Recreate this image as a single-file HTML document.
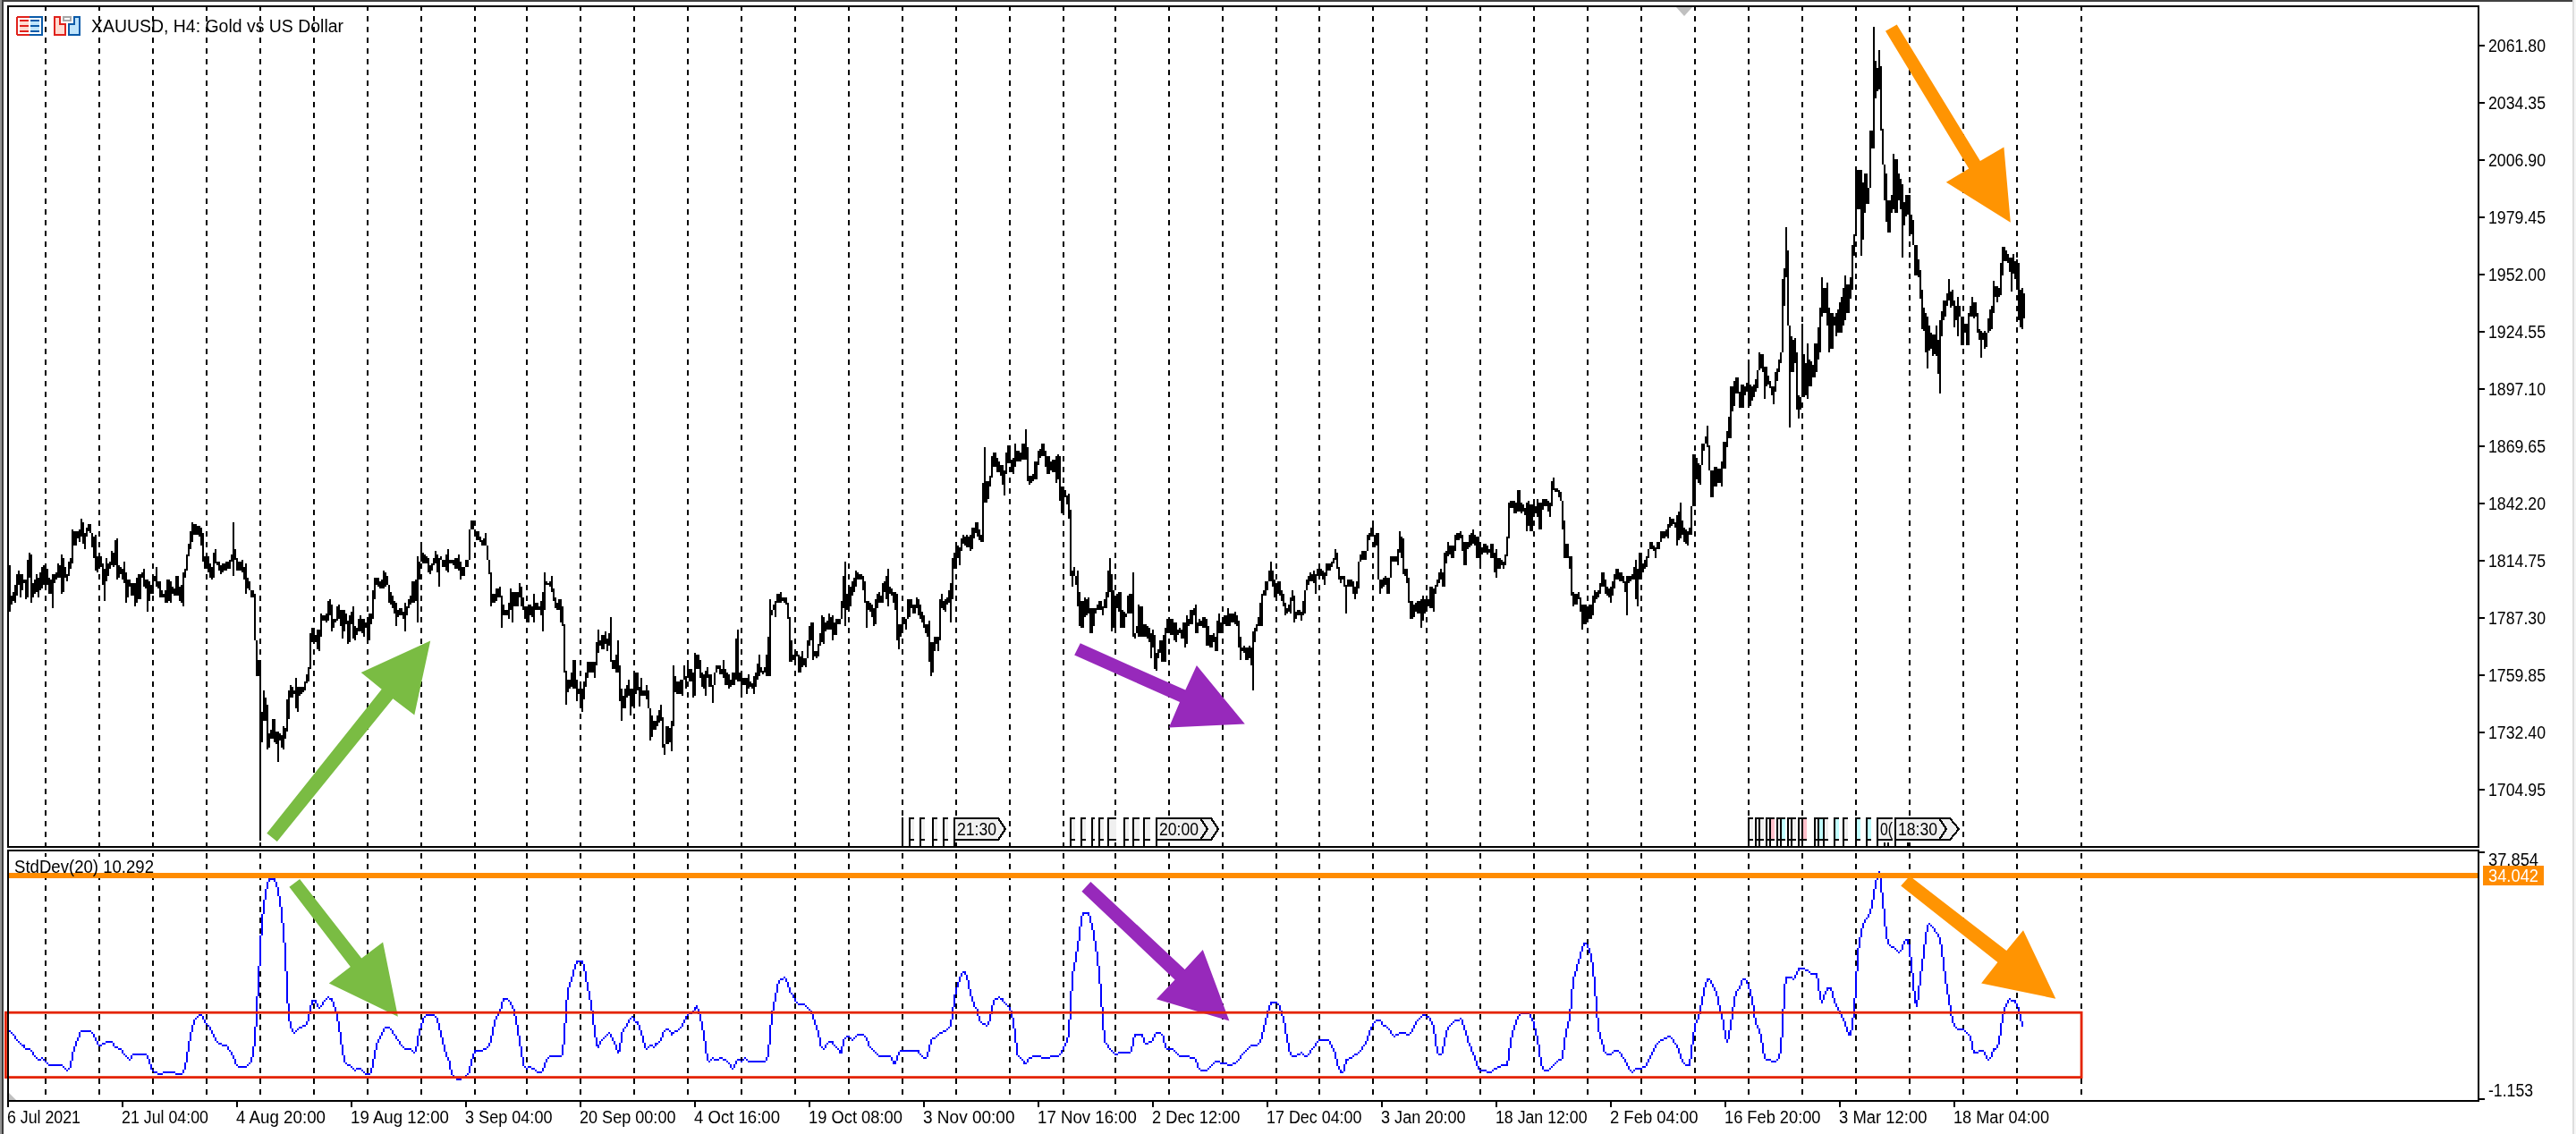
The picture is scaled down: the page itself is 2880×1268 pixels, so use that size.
<!DOCTYPE html>
<html><head><meta charset="utf-8"><title>XAUUSD H4</title>
<style>html,body{margin:0;padding:0;background:#fff;overflow:hidden}svg{display:block;will-change:transform}
text{font-family:"Liberation Sans",sans-serif}</style></head>
<body>
<svg width="2880" height="1268" viewBox="0 0 2880 1268">
<rect width="2880" height="1268" fill="#fff"/>
<g shape-rendering="crispEdges">
<rect x="0" y="0" width="2" height="1268" fill="#939393"/>
<rect x="2" y="0" width="2" height="1268" fill="#3c3c3c"/>
<rect x="2" y="0" width="2874" height="2" fill="#414141"/>
<rect x="2876" y="0" width="2" height="1268" fill="#dedede"/>
<rect x="2878" y="0" width="2" height="1268" fill="#f6f6f6"/>
<path d="M51 8V12M51 18V24M51 30V36M51 42V48M51 54V60M51 66V72M51 78V84M51 90V96M51 102V108M51 114V120M51 126V132M51 138V144M51 150V156M51 162V168M51 174V180M51 186V192M51 198V204M51 210V216M51 222V228M51 234V240M51 246V252M51 258V264M51 270V276M51 282V288M51 294V300M51 306V312M51 318V324M51 330V336M51 342V348M51 354V360M51 366V372M51 378V384M51 390V396M51 402V408M51 414V420M51 426V432M51 438V444M51 450V456M51 462V468M51 474V480M51 486V492M51 498V504M51 510V516M51 522V528M51 534V540M51 546V552M51 558V564M51 570V576M51 582V588M51 594V600M51 606V612M51 618V624M51 630V636M51 642V648M51 654V660M51 666V672M51 678V684M51 690V696M51 702V708M51 714V720M51 726V732M51 738V744M51 750V756M51 762V768M51 774V780M51 786V792M51 798V804M51 810V816M51 822V828M51 834V840M51 846V852M51 858V864M51 870V876M51 882V888M51 894V900M51 906V912M51 918V924M51 930V936M51 942V948M51 954V960M51 966V972M51 978V984M51 990V996M51 1002V1008M51 1014V1020M51 1026V1032M51 1038V1044M51 1050V1056M51 1062V1068M51 1074V1080M51 1086V1092M51 1098V1104M51 1110V1116M51 1122V1128M51 1134V1140M51 1146V1152M51 1158V1164M51 1170V1176M51 1182V1188M51 1194V1200M51 1206V1212M51 1218V1224M111 8V12M111 18V24M111 30V36M111 42V48M111 54V60M111 66V72M111 78V84M111 90V96M111 102V108M111 114V120M111 126V132M111 138V144M111 150V156M111 162V168M111 174V180M111 186V192M111 198V204M111 210V216M111 222V228M111 234V240M111 246V252M111 258V264M111 270V276M111 282V288M111 294V300M111 306V312M111 318V324M111 330V336M111 342V348M111 354V360M111 366V372M111 378V384M111 390V396M111 402V408M111 414V420M111 426V432M111 438V444M111 450V456M111 462V468M111 474V480M111 486V492M111 498V504M111 510V516M111 522V528M111 534V540M111 546V552M111 558V564M111 570V576M111 582V588M111 594V600M111 606V612M111 618V624M111 630V636M111 642V648M111 654V660M111 666V672M111 678V684M111 690V696M111 702V708M111 714V720M111 726V732M111 738V744M111 750V756M111 762V768M111 774V780M111 786V792M111 798V804M111 810V816M111 822V828M111 834V840M111 846V852M111 858V864M111 870V876M111 882V888M111 894V900M111 906V912M111 918V924M111 930V936M111 942V948M111 954V960M111 966V972M111 978V984M111 990V996M111 1002V1008M111 1014V1020M111 1026V1032M111 1038V1044M111 1050V1056M111 1062V1068M111 1074V1080M111 1086V1092M111 1098V1104M111 1110V1116M111 1122V1128M111 1134V1140M111 1146V1152M111 1158V1164M111 1170V1176M111 1182V1188M111 1194V1200M111 1206V1212M111 1218V1224M171 8V12M171 18V24M171 30V36M171 42V48M171 54V60M171 66V72M171 78V84M171 90V96M171 102V108M171 114V120M171 126V132M171 138V144M171 150V156M171 162V168M171 174V180M171 186V192M171 198V204M171 210V216M171 222V228M171 234V240M171 246V252M171 258V264M171 270V276M171 282V288M171 294V300M171 306V312M171 318V324M171 330V336M171 342V348M171 354V360M171 366V372M171 378V384M171 390V396M171 402V408M171 414V420M171 426V432M171 438V444M171 450V456M171 462V468M171 474V480M171 486V492M171 498V504M171 510V516M171 522V528M171 534V540M171 546V552M171 558V564M171 570V576M171 582V588M171 594V600M171 606V612M171 618V624M171 630V636M171 642V648M171 654V660M171 666V672M171 678V684M171 690V696M171 702V708M171 714V720M171 726V732M171 738V744M171 750V756M171 762V768M171 774V780M171 786V792M171 798V804M171 810V816M171 822V828M171 834V840M171 846V852M171 858V864M171 870V876M171 882V888M171 894V900M171 906V912M171 918V924M171 930V936M171 942V948M171 954V960M171 966V972M171 978V984M171 990V996M171 1002V1008M171 1014V1020M171 1026V1032M171 1038V1044M171 1050V1056M171 1062V1068M171 1074V1080M171 1086V1092M171 1098V1104M171 1110V1116M171 1122V1128M171 1134V1140M171 1146V1152M171 1158V1164M171 1170V1176M171 1182V1188M171 1194V1200M171 1206V1212M171 1218V1224M231 8V12M231 18V24M231 30V36M231 42V48M231 54V60M231 66V72M231 78V84M231 90V96M231 102V108M231 114V120M231 126V132M231 138V144M231 150V156M231 162V168M231 174V180M231 186V192M231 198V204M231 210V216M231 222V228M231 234V240M231 246V252M231 258V264M231 270V276M231 282V288M231 294V300M231 306V312M231 318V324M231 330V336M231 342V348M231 354V360M231 366V372M231 378V384M231 390V396M231 402V408M231 414V420M231 426V432M231 438V444M231 450V456M231 462V468M231 474V480M231 486V492M231 498V504M231 510V516M231 522V528M231 534V540M231 546V552M231 558V564M231 570V576M231 582V588M231 594V600M231 606V612M231 618V624M231 630V636M231 642V648M231 654V660M231 666V672M231 678V684M231 690V696M231 702V708M231 714V720M231 726V732M231 738V744M231 750V756M231 762V768M231 774V780M231 786V792M231 798V804M231 810V816M231 822V828M231 834V840M231 846V852M231 858V864M231 870V876M231 882V888M231 894V900M231 906V912M231 918V924M231 930V936M231 942V948M231 954V960M231 966V972M231 978V984M231 990V996M231 1002V1008M231 1014V1020M231 1026V1032M231 1038V1044M231 1050V1056M231 1062V1068M231 1074V1080M231 1086V1092M231 1098V1104M231 1110V1116M231 1122V1128M231 1134V1140M231 1146V1152M231 1158V1164M231 1170V1176M231 1182V1188M231 1194V1200M231 1206V1212M231 1218V1224M291 8V12M291 18V24M291 30V36M291 42V48M291 54V60M291 66V72M291 78V84M291 90V96M291 102V108M291 114V120M291 126V132M291 138V144M291 150V156M291 162V168M291 174V180M291 186V192M291 198V204M291 210V216M291 222V228M291 234V240M291 246V252M291 258V264M291 270V276M291 282V288M291 294V300M291 306V312M291 318V324M291 330V336M291 342V348M291 354V360M291 366V372M291 378V384M291 390V396M291 402V408M291 414V420M291 426V432M291 438V444M291 450V456M291 462V468M291 474V480M291 486V492M291 498V504M291 510V516M291 522V528M291 534V540M291 546V552M291 558V564M291 570V576M291 582V588M291 594V600M291 606V612M291 618V624M291 630V636M291 642V648M291 654V660M291 666V672M291 678V684M291 690V696M291 702V708M291 714V720M291 726V732M291 738V744M291 750V756M291 762V768M291 774V780M291 786V792M291 798V804M291 810V816M291 822V828M291 834V840M291 846V852M291 858V864M291 870V876M291 882V888M291 894V900M291 906V912M291 918V924M291 930V936M291 942V948M291 954V960M291 966V972M291 978V984M291 990V996M291 1002V1008M291 1014V1020M291 1026V1032M291 1038V1044M291 1050V1056M291 1062V1068M291 1074V1080M291 1086V1092M291 1098V1104M291 1110V1116M291 1122V1128M291 1134V1140M291 1146V1152M291 1158V1164M291 1170V1176M291 1182V1188M291 1194V1200M291 1206V1212M291 1218V1224M351 8V12M351 18V24M351 30V36M351 42V48M351 54V60M351 66V72M351 78V84M351 90V96M351 102V108M351 114V120M351 126V132M351 138V144M351 150V156M351 162V168M351 174V180M351 186V192M351 198V204M351 210V216M351 222V228M351 234V240M351 246V252M351 258V264M351 270V276M351 282V288M351 294V300M351 306V312M351 318V324M351 330V336M351 342V348M351 354V360M351 366V372M351 378V384M351 390V396M351 402V408M351 414V420M351 426V432M351 438V444M351 450V456M351 462V468M351 474V480M351 486V492M351 498V504M351 510V516M351 522V528M351 534V540M351 546V552M351 558V564M351 570V576M351 582V588M351 594V600M351 606V612M351 618V624M351 630V636M351 642V648M351 654V660M351 666V672M351 678V684M351 690V696M351 702V708M351 714V720M351 726V732M351 738V744M351 750V756M351 762V768M351 774V780M351 786V792M351 798V804M351 810V816M351 822V828M351 834V840M351 846V852M351 858V864M351 870V876M351 882V888M351 894V900M351 906V912M351 918V924M351 930V936M351 942V948M351 954V960M351 966V972M351 978V984M351 990V996M351 1002V1008M351 1014V1020M351 1026V1032M351 1038V1044M351 1050V1056M351 1062V1068M351 1074V1080M351 1086V1092M351 1098V1104M351 1110V1116M351 1122V1128M351 1134V1140M351 1146V1152M351 1158V1164M351 1170V1176M351 1182V1188M351 1194V1200M351 1206V1212M351 1218V1224M411 8V12M411 18V24M411 30V36M411 42V48M411 54V60M411 66V72M411 78V84M411 90V96M411 102V108M411 114V120M411 126V132M411 138V144M411 150V156M411 162V168M411 174V180M411 186V192M411 198V204M411 210V216M411 222V228M411 234V240M411 246V252M411 258V264M411 270V276M411 282V288M411 294V300M411 306V312M411 318V324M411 330V336M411 342V348M411 354V360M411 366V372M411 378V384M411 390V396M411 402V408M411 414V420M411 426V432M411 438V444M411 450V456M411 462V468M411 474V480M411 486V492M411 498V504M411 510V516M411 522V528M411 534V540M411 546V552M411 558V564M411 570V576M411 582V588M411 594V600M411 606V612M411 618V624M411 630V636M411 642V648M411 654V660M411 666V672M411 678V684M411 690V696M411 702V708M411 714V720M411 726V732M411 738V744M411 750V756M411 762V768M411 774V780M411 786V792M411 798V804M411 810V816M411 822V828M411 834V840M411 846V852M411 858V864M411 870V876M411 882V888M411 894V900M411 906V912M411 918V924M411 930V936M411 942V948M411 954V960M411 966V972M411 978V984M411 990V996M411 1002V1008M411 1014V1020M411 1026V1032M411 1038V1044M411 1050V1056M411 1062V1068M411 1074V1080M411 1086V1092M411 1098V1104M411 1110V1116M411 1122V1128M411 1134V1140M411 1146V1152M411 1158V1164M411 1170V1176M411 1182V1188M411 1194V1200M411 1206V1212M411 1218V1224M471 8V12M471 18V24M471 30V36M471 42V48M471 54V60M471 66V72M471 78V84M471 90V96M471 102V108M471 114V120M471 126V132M471 138V144M471 150V156M471 162V168M471 174V180M471 186V192M471 198V204M471 210V216M471 222V228M471 234V240M471 246V252M471 258V264M471 270V276M471 282V288M471 294V300M471 306V312M471 318V324M471 330V336M471 342V348M471 354V360M471 366V372M471 378V384M471 390V396M471 402V408M471 414V420M471 426V432M471 438V444M471 450V456M471 462V468M471 474V480M471 486V492M471 498V504M471 510V516M471 522V528M471 534V540M471 546V552M471 558V564M471 570V576M471 582V588M471 594V600M471 606V612M471 618V624M471 630V636M471 642V648M471 654V660M471 666V672M471 678V684M471 690V696M471 702V708M471 714V720M471 726V732M471 738V744M471 750V756M471 762V768M471 774V780M471 786V792M471 798V804M471 810V816M471 822V828M471 834V840M471 846V852M471 858V864M471 870V876M471 882V888M471 894V900M471 906V912M471 918V924M471 930V936M471 942V948M471 954V960M471 966V972M471 978V984M471 990V996M471 1002V1008M471 1014V1020M471 1026V1032M471 1038V1044M471 1050V1056M471 1062V1068M471 1074V1080M471 1086V1092M471 1098V1104M471 1110V1116M471 1122V1128M471 1134V1140M471 1146V1152M471 1158V1164M471 1170V1176M471 1182V1188M471 1194V1200M471 1206V1212M471 1218V1224M531 8V12M531 18V24M531 30V36M531 42V48M531 54V60M531 66V72M531 78V84M531 90V96M531 102V108M531 114V120M531 126V132M531 138V144M531 150V156M531 162V168M531 174V180M531 186V192M531 198V204M531 210V216M531 222V228M531 234V240M531 246V252M531 258V264M531 270V276M531 282V288M531 294V300M531 306V312M531 318V324M531 330V336M531 342V348M531 354V360M531 366V372M531 378V384M531 390V396M531 402V408M531 414V420M531 426V432M531 438V444M531 450V456M531 462V468M531 474V480M531 486V492M531 498V504M531 510V516M531 522V528M531 534V540M531 546V552M531 558V564M531 570V576M531 582V588M531 594V600M531 606V612M531 618V624M531 630V636M531 642V648M531 654V660M531 666V672M531 678V684M531 690V696M531 702V708M531 714V720M531 726V732M531 738V744M531 750V756M531 762V768M531 774V780M531 786V792M531 798V804M531 810V816M531 822V828M531 834V840M531 846V852M531 858V864M531 870V876M531 882V888M531 894V900M531 906V912M531 918V924M531 930V936M531 942V948M531 954V960M531 966V972M531 978V984M531 990V996M531 1002V1008M531 1014V1020M531 1026V1032M531 1038V1044M531 1050V1056M531 1062V1068M531 1074V1080M531 1086V1092M531 1098V1104M531 1110V1116M531 1122V1128M531 1134V1140M531 1146V1152M531 1158V1164M531 1170V1176M531 1182V1188M531 1194V1200M531 1206V1212M531 1218V1224M589 8V12M589 18V24M589 30V36M589 42V48M589 54V60M589 66V72M589 78V84M589 90V96M589 102V108M589 114V120M589 126V132M589 138V144M589 150V156M589 162V168M589 174V180M589 186V192M589 198V204M589 210V216M589 222V228M589 234V240M589 246V252M589 258V264M589 270V276M589 282V288M589 294V300M589 306V312M589 318V324M589 330V336M589 342V348M589 354V360M589 366V372M589 378V384M589 390V396M589 402V408M589 414V420M589 426V432M589 438V444M589 450V456M589 462V468M589 474V480M589 486V492M589 498V504M589 510V516M589 522V528M589 534V540M589 546V552M589 558V564M589 570V576M589 582V588M589 594V600M589 606V612M589 618V624M589 630V636M589 642V648M589 654V660M589 666V672M589 678V684M589 690V696M589 702V708M589 714V720M589 726V732M589 738V744M589 750V756M589 762V768M589 774V780M589 786V792M589 798V804M589 810V816M589 822V828M589 834V840M589 846V852M589 858V864M589 870V876M589 882V888M589 894V900M589 906V912M589 918V924M589 930V936M589 942V948M589 954V960M589 966V972M589 978V984M589 990V996M589 1002V1008M589 1014V1020M589 1026V1032M589 1038V1044M589 1050V1056M589 1062V1068M589 1074V1080M589 1086V1092M589 1098V1104M589 1110V1116M589 1122V1128M589 1134V1140M589 1146V1152M589 1158V1164M589 1170V1176M589 1182V1188M589 1194V1200M589 1206V1212M589 1218V1224M649 8V12M649 18V24M649 30V36M649 42V48M649 54V60M649 66V72M649 78V84M649 90V96M649 102V108M649 114V120M649 126V132M649 138V144M649 150V156M649 162V168M649 174V180M649 186V192M649 198V204M649 210V216M649 222V228M649 234V240M649 246V252M649 258V264M649 270V276M649 282V288M649 294V300M649 306V312M649 318V324M649 330V336M649 342V348M649 354V360M649 366V372M649 378V384M649 390V396M649 402V408M649 414V420M649 426V432M649 438V444M649 450V456M649 462V468M649 474V480M649 486V492M649 498V504M649 510V516M649 522V528M649 534V540M649 546V552M649 558V564M649 570V576M649 582V588M649 594V600M649 606V612M649 618V624M649 630V636M649 642V648M649 654V660M649 666V672M649 678V684M649 690V696M649 702V708M649 714V720M649 726V732M649 738V744M649 750V756M649 762V768M649 774V780M649 786V792M649 798V804M649 810V816M649 822V828M649 834V840M649 846V852M649 858V864M649 870V876M649 882V888M649 894V900M649 906V912M649 918V924M649 930V936M649 942V948M649 954V960M649 966V972M649 978V984M649 990V996M649 1002V1008M649 1014V1020M649 1026V1032M649 1038V1044M649 1050V1056M649 1062V1068M649 1074V1080M649 1086V1092M649 1098V1104M649 1110V1116M649 1122V1128M649 1134V1140M649 1146V1152M649 1158V1164M649 1170V1176M649 1182V1188M649 1194V1200M649 1206V1212M649 1218V1224M709 8V12M709 18V24M709 30V36M709 42V48M709 54V60M709 66V72M709 78V84M709 90V96M709 102V108M709 114V120M709 126V132M709 138V144M709 150V156M709 162V168M709 174V180M709 186V192M709 198V204M709 210V216M709 222V228M709 234V240M709 246V252M709 258V264M709 270V276M709 282V288M709 294V300M709 306V312M709 318V324M709 330V336M709 342V348M709 354V360M709 366V372M709 378V384M709 390V396M709 402V408M709 414V420M709 426V432M709 438V444M709 450V456M709 462V468M709 474V480M709 486V492M709 498V504M709 510V516M709 522V528M709 534V540M709 546V552M709 558V564M709 570V576M709 582V588M709 594V600M709 606V612M709 618V624M709 630V636M709 642V648M709 654V660M709 666V672M709 678V684M709 690V696M709 702V708M709 714V720M709 726V732M709 738V744M709 750V756M709 762V768M709 774V780M709 786V792M709 798V804M709 810V816M709 822V828M709 834V840M709 846V852M709 858V864M709 870V876M709 882V888M709 894V900M709 906V912M709 918V924M709 930V936M709 942V948M709 954V960M709 966V972M709 978V984M709 990V996M709 1002V1008M709 1014V1020M709 1026V1032M709 1038V1044M709 1050V1056M709 1062V1068M709 1074V1080M709 1086V1092M709 1098V1104M709 1110V1116M709 1122V1128M709 1134V1140M709 1146V1152M709 1158V1164M709 1170V1176M709 1182V1188M709 1194V1200M709 1206V1212M709 1218V1224M769 8V12M769 18V24M769 30V36M769 42V48M769 54V60M769 66V72M769 78V84M769 90V96M769 102V108M769 114V120M769 126V132M769 138V144M769 150V156M769 162V168M769 174V180M769 186V192M769 198V204M769 210V216M769 222V228M769 234V240M769 246V252M769 258V264M769 270V276M769 282V288M769 294V300M769 306V312M769 318V324M769 330V336M769 342V348M769 354V360M769 366V372M769 378V384M769 390V396M769 402V408M769 414V420M769 426V432M769 438V444M769 450V456M769 462V468M769 474V480M769 486V492M769 498V504M769 510V516M769 522V528M769 534V540M769 546V552M769 558V564M769 570V576M769 582V588M769 594V600M769 606V612M769 618V624M769 630V636M769 642V648M769 654V660M769 666V672M769 678V684M769 690V696M769 702V708M769 714V720M769 726V732M769 738V744M769 750V756M769 762V768M769 774V780M769 786V792M769 798V804M769 810V816M769 822V828M769 834V840M769 846V852M769 858V864M769 870V876M769 882V888M769 894V900M769 906V912M769 918V924M769 930V936M769 942V948M769 954V960M769 966V972M769 978V984M769 990V996M769 1002V1008M769 1014V1020M769 1026V1032M769 1038V1044M769 1050V1056M769 1062V1068M769 1074V1080M769 1086V1092M769 1098V1104M769 1110V1116M769 1122V1128M769 1134V1140M769 1146V1152M769 1158V1164M769 1170V1176M769 1182V1188M769 1194V1200M769 1206V1212M769 1218V1224M829 8V12M829 18V24M829 30V36M829 42V48M829 54V60M829 66V72M829 78V84M829 90V96M829 102V108M829 114V120M829 126V132M829 138V144M829 150V156M829 162V168M829 174V180M829 186V192M829 198V204M829 210V216M829 222V228M829 234V240M829 246V252M829 258V264M829 270V276M829 282V288M829 294V300M829 306V312M829 318V324M829 330V336M829 342V348M829 354V360M829 366V372M829 378V384M829 390V396M829 402V408M829 414V420M829 426V432M829 438V444M829 450V456M829 462V468M829 474V480M829 486V492M829 498V504M829 510V516M829 522V528M829 534V540M829 546V552M829 558V564M829 570V576M829 582V588M829 594V600M829 606V612M829 618V624M829 630V636M829 642V648M829 654V660M829 666V672M829 678V684M829 690V696M829 702V708M829 714V720M829 726V732M829 738V744M829 750V756M829 762V768M829 774V780M829 786V792M829 798V804M829 810V816M829 822V828M829 834V840M829 846V852M829 858V864M829 870V876M829 882V888M829 894V900M829 906V912M829 918V924M829 930V936M829 942V948M829 954V960M829 966V972M829 978V984M829 990V996M829 1002V1008M829 1014V1020M829 1026V1032M829 1038V1044M829 1050V1056M829 1062V1068M829 1074V1080M829 1086V1092M829 1098V1104M829 1110V1116M829 1122V1128M829 1134V1140M829 1146V1152M829 1158V1164M829 1170V1176M829 1182V1188M829 1194V1200M829 1206V1212M829 1218V1224M889 8V12M889 18V24M889 30V36M889 42V48M889 54V60M889 66V72M889 78V84M889 90V96M889 102V108M889 114V120M889 126V132M889 138V144M889 150V156M889 162V168M889 174V180M889 186V192M889 198V204M889 210V216M889 222V228M889 234V240M889 246V252M889 258V264M889 270V276M889 282V288M889 294V300M889 306V312M889 318V324M889 330V336M889 342V348M889 354V360M889 366V372M889 378V384M889 390V396M889 402V408M889 414V420M889 426V432M889 438V444M889 450V456M889 462V468M889 474V480M889 486V492M889 498V504M889 510V516M889 522V528M889 534V540M889 546V552M889 558V564M889 570V576M889 582V588M889 594V600M889 606V612M889 618V624M889 630V636M889 642V648M889 654V660M889 666V672M889 678V684M889 690V696M889 702V708M889 714V720M889 726V732M889 738V744M889 750V756M889 762V768M889 774V780M889 786V792M889 798V804M889 810V816M889 822V828M889 834V840M889 846V852M889 858V864M889 870V876M889 882V888M889 894V900M889 906V912M889 918V924M889 930V936M889 942V948M889 954V960M889 966V972M889 978V984M889 990V996M889 1002V1008M889 1014V1020M889 1026V1032M889 1038V1044M889 1050V1056M889 1062V1068M889 1074V1080M889 1086V1092M889 1098V1104M889 1110V1116M889 1122V1128M889 1134V1140M889 1146V1152M889 1158V1164M889 1170V1176M889 1182V1188M889 1194V1200M889 1206V1212M889 1218V1224M949 8V12M949 18V24M949 30V36M949 42V48M949 54V60M949 66V72M949 78V84M949 90V96M949 102V108M949 114V120M949 126V132M949 138V144M949 150V156M949 162V168M949 174V180M949 186V192M949 198V204M949 210V216M949 222V228M949 234V240M949 246V252M949 258V264M949 270V276M949 282V288M949 294V300M949 306V312M949 318V324M949 330V336M949 342V348M949 354V360M949 366V372M949 378V384M949 390V396M949 402V408M949 414V420M949 426V432M949 438V444M949 450V456M949 462V468M949 474V480M949 486V492M949 498V504M949 510V516M949 522V528M949 534V540M949 546V552M949 558V564M949 570V576M949 582V588M949 594V600M949 606V612M949 618V624M949 630V636M949 642V648M949 654V660M949 666V672M949 678V684M949 690V696M949 702V708M949 714V720M949 726V732M949 738V744M949 750V756M949 762V768M949 774V780M949 786V792M949 798V804M949 810V816M949 822V828M949 834V840M949 846V852M949 858V864M949 870V876M949 882V888M949 894V900M949 906V912M949 918V924M949 930V936M949 942V948M949 954V960M949 966V972M949 978V984M949 990V996M949 1002V1008M949 1014V1020M949 1026V1032M949 1038V1044M949 1050V1056M949 1062V1068M949 1074V1080M949 1086V1092M949 1098V1104M949 1110V1116M949 1122V1128M949 1134V1140M949 1146V1152M949 1158V1164M949 1170V1176M949 1182V1188M949 1194V1200M949 1206V1212M949 1218V1224M1009 8V12M1009 18V24M1009 30V36M1009 42V48M1009 54V60M1009 66V72M1009 78V84M1009 90V96M1009 102V108M1009 114V120M1009 126V132M1009 138V144M1009 150V156M1009 162V168M1009 174V180M1009 186V192M1009 198V204M1009 210V216M1009 222V228M1009 234V240M1009 246V252M1009 258V264M1009 270V276M1009 282V288M1009 294V300M1009 306V312M1009 318V324M1009 330V336M1009 342V348M1009 354V360M1009 366V372M1009 378V384M1009 390V396M1009 402V408M1009 414V420M1009 426V432M1009 438V444M1009 450V456M1009 462V468M1009 474V480M1009 486V492M1009 498V504M1009 510V516M1009 522V528M1009 534V540M1009 546V552M1009 558V564M1009 570V576M1009 582V588M1009 594V600M1009 606V612M1009 618V624M1009 630V636M1009 642V648M1009 654V660M1009 666V672M1009 678V684M1009 690V696M1009 702V708M1009 714V720M1009 726V732M1009 738V744M1009 750V756M1009 762V768M1009 774V780M1009 786V792M1009 798V804M1009 810V816M1009 822V828M1009 834V840M1009 846V852M1009 858V864M1009 870V876M1009 882V888M1009 894V900M1009 906V912M1009 918V924M1009 930V936M1009 942V948M1009 954V960M1009 966V972M1009 978V984M1009 990V996M1009 1002V1008M1009 1014V1020M1009 1026V1032M1009 1038V1044M1009 1050V1056M1009 1062V1068M1009 1074V1080M1009 1086V1092M1009 1098V1104M1009 1110V1116M1009 1122V1128M1009 1134V1140M1009 1146V1152M1009 1158V1164M1009 1170V1176M1009 1182V1188M1009 1194V1200M1009 1206V1212M1009 1218V1224M1069 8V12M1069 18V24M1069 30V36M1069 42V48M1069 54V60M1069 66V72M1069 78V84M1069 90V96M1069 102V108M1069 114V120M1069 126V132M1069 138V144M1069 150V156M1069 162V168M1069 174V180M1069 186V192M1069 198V204M1069 210V216M1069 222V228M1069 234V240M1069 246V252M1069 258V264M1069 270V276M1069 282V288M1069 294V300M1069 306V312M1069 318V324M1069 330V336M1069 342V348M1069 354V360M1069 366V372M1069 378V384M1069 390V396M1069 402V408M1069 414V420M1069 426V432M1069 438V444M1069 450V456M1069 462V468M1069 474V480M1069 486V492M1069 498V504M1069 510V516M1069 522V528M1069 534V540M1069 546V552M1069 558V564M1069 570V576M1069 582V588M1069 594V600M1069 606V612M1069 618V624M1069 630V636M1069 642V648M1069 654V660M1069 666V672M1069 678V684M1069 690V696M1069 702V708M1069 714V720M1069 726V732M1069 738V744M1069 750V756M1069 762V768M1069 774V780M1069 786V792M1069 798V804M1069 810V816M1069 822V828M1069 834V840M1069 846V852M1069 858V864M1069 870V876M1069 882V888M1069 894V900M1069 906V912M1069 918V924M1069 930V936M1069 942V948M1069 954V960M1069 966V972M1069 978V984M1069 990V996M1069 1002V1008M1069 1014V1020M1069 1026V1032M1069 1038V1044M1069 1050V1056M1069 1062V1068M1069 1074V1080M1069 1086V1092M1069 1098V1104M1069 1110V1116M1069 1122V1128M1069 1134V1140M1069 1146V1152M1069 1158V1164M1069 1170V1176M1069 1182V1188M1069 1194V1200M1069 1206V1212M1069 1218V1224M1129 8V12M1129 18V24M1129 30V36M1129 42V48M1129 54V60M1129 66V72M1129 78V84M1129 90V96M1129 102V108M1129 114V120M1129 126V132M1129 138V144M1129 150V156M1129 162V168M1129 174V180M1129 186V192M1129 198V204M1129 210V216M1129 222V228M1129 234V240M1129 246V252M1129 258V264M1129 270V276M1129 282V288M1129 294V300M1129 306V312M1129 318V324M1129 330V336M1129 342V348M1129 354V360M1129 366V372M1129 378V384M1129 390V396M1129 402V408M1129 414V420M1129 426V432M1129 438V444M1129 450V456M1129 462V468M1129 474V480M1129 486V492M1129 498V504M1129 510V516M1129 522V528M1129 534V540M1129 546V552M1129 558V564M1129 570V576M1129 582V588M1129 594V600M1129 606V612M1129 618V624M1129 630V636M1129 642V648M1129 654V660M1129 666V672M1129 678V684M1129 690V696M1129 702V708M1129 714V720M1129 726V732M1129 738V744M1129 750V756M1129 762V768M1129 774V780M1129 786V792M1129 798V804M1129 810V816M1129 822V828M1129 834V840M1129 846V852M1129 858V864M1129 870V876M1129 882V888M1129 894V900M1129 906V912M1129 918V924M1129 930V936M1129 942V948M1129 954V960M1129 966V972M1129 978V984M1129 990V996M1129 1002V1008M1129 1014V1020M1129 1026V1032M1129 1038V1044M1129 1050V1056M1129 1062V1068M1129 1074V1080M1129 1086V1092M1129 1098V1104M1129 1110V1116M1129 1122V1128M1129 1134V1140M1129 1146V1152M1129 1158V1164M1129 1170V1176M1129 1182V1188M1129 1194V1200M1129 1206V1212M1129 1218V1224M1189 8V12M1189 18V24M1189 30V36M1189 42V48M1189 54V60M1189 66V72M1189 78V84M1189 90V96M1189 102V108M1189 114V120M1189 126V132M1189 138V144M1189 150V156M1189 162V168M1189 174V180M1189 186V192M1189 198V204M1189 210V216M1189 222V228M1189 234V240M1189 246V252M1189 258V264M1189 270V276M1189 282V288M1189 294V300M1189 306V312M1189 318V324M1189 330V336M1189 342V348M1189 354V360M1189 366V372M1189 378V384M1189 390V396M1189 402V408M1189 414V420M1189 426V432M1189 438V444M1189 450V456M1189 462V468M1189 474V480M1189 486V492M1189 498V504M1189 510V516M1189 522V528M1189 534V540M1189 546V552M1189 558V564M1189 570V576M1189 582V588M1189 594V600M1189 606V612M1189 618V624M1189 630V636M1189 642V648M1189 654V660M1189 666V672M1189 678V684M1189 690V696M1189 702V708M1189 714V720M1189 726V732M1189 738V744M1189 750V756M1189 762V768M1189 774V780M1189 786V792M1189 798V804M1189 810V816M1189 822V828M1189 834V840M1189 846V852M1189 858V864M1189 870V876M1189 882V888M1189 894V900M1189 906V912M1189 918V924M1189 930V936M1189 942V948M1189 954V960M1189 966V972M1189 978V984M1189 990V996M1189 1002V1008M1189 1014V1020M1189 1026V1032M1189 1038V1044M1189 1050V1056M1189 1062V1068M1189 1074V1080M1189 1086V1092M1189 1098V1104M1189 1110V1116M1189 1122V1128M1189 1134V1140M1189 1146V1152M1189 1158V1164M1189 1170V1176M1189 1182V1188M1189 1194V1200M1189 1206V1212M1189 1218V1224M1247 8V12M1247 18V24M1247 30V36M1247 42V48M1247 54V60M1247 66V72M1247 78V84M1247 90V96M1247 102V108M1247 114V120M1247 126V132M1247 138V144M1247 150V156M1247 162V168M1247 174V180M1247 186V192M1247 198V204M1247 210V216M1247 222V228M1247 234V240M1247 246V252M1247 258V264M1247 270V276M1247 282V288M1247 294V300M1247 306V312M1247 318V324M1247 330V336M1247 342V348M1247 354V360M1247 366V372M1247 378V384M1247 390V396M1247 402V408M1247 414V420M1247 426V432M1247 438V444M1247 450V456M1247 462V468M1247 474V480M1247 486V492M1247 498V504M1247 510V516M1247 522V528M1247 534V540M1247 546V552M1247 558V564M1247 570V576M1247 582V588M1247 594V600M1247 606V612M1247 618V624M1247 630V636M1247 642V648M1247 654V660M1247 666V672M1247 678V684M1247 690V696M1247 702V708M1247 714V720M1247 726V732M1247 738V744M1247 750V756M1247 762V768M1247 774V780M1247 786V792M1247 798V804M1247 810V816M1247 822V828M1247 834V840M1247 846V852M1247 858V864M1247 870V876M1247 882V888M1247 894V900M1247 906V912M1247 918V924M1247 930V936M1247 942V948M1247 954V960M1247 966V972M1247 978V984M1247 990V996M1247 1002V1008M1247 1014V1020M1247 1026V1032M1247 1038V1044M1247 1050V1056M1247 1062V1068M1247 1074V1080M1247 1086V1092M1247 1098V1104M1247 1110V1116M1247 1122V1128M1247 1134V1140M1247 1146V1152M1247 1158V1164M1247 1170V1176M1247 1182V1188M1247 1194V1200M1247 1206V1212M1247 1218V1224M1307 8V12M1307 18V24M1307 30V36M1307 42V48M1307 54V60M1307 66V72M1307 78V84M1307 90V96M1307 102V108M1307 114V120M1307 126V132M1307 138V144M1307 150V156M1307 162V168M1307 174V180M1307 186V192M1307 198V204M1307 210V216M1307 222V228M1307 234V240M1307 246V252M1307 258V264M1307 270V276M1307 282V288M1307 294V300M1307 306V312M1307 318V324M1307 330V336M1307 342V348M1307 354V360M1307 366V372M1307 378V384M1307 390V396M1307 402V408M1307 414V420M1307 426V432M1307 438V444M1307 450V456M1307 462V468M1307 474V480M1307 486V492M1307 498V504M1307 510V516M1307 522V528M1307 534V540M1307 546V552M1307 558V564M1307 570V576M1307 582V588M1307 594V600M1307 606V612M1307 618V624M1307 630V636M1307 642V648M1307 654V660M1307 666V672M1307 678V684M1307 690V696M1307 702V708M1307 714V720M1307 726V732M1307 738V744M1307 750V756M1307 762V768M1307 774V780M1307 786V792M1307 798V804M1307 810V816M1307 822V828M1307 834V840M1307 846V852M1307 858V864M1307 870V876M1307 882V888M1307 894V900M1307 906V912M1307 918V924M1307 930V936M1307 942V948M1307 954V960M1307 966V972M1307 978V984M1307 990V996M1307 1002V1008M1307 1014V1020M1307 1026V1032M1307 1038V1044M1307 1050V1056M1307 1062V1068M1307 1074V1080M1307 1086V1092M1307 1098V1104M1307 1110V1116M1307 1122V1128M1307 1134V1140M1307 1146V1152M1307 1158V1164M1307 1170V1176M1307 1182V1188M1307 1194V1200M1307 1206V1212M1307 1218V1224M1367 8V12M1367 18V24M1367 30V36M1367 42V48M1367 54V60M1367 66V72M1367 78V84M1367 90V96M1367 102V108M1367 114V120M1367 126V132M1367 138V144M1367 150V156M1367 162V168M1367 174V180M1367 186V192M1367 198V204M1367 210V216M1367 222V228M1367 234V240M1367 246V252M1367 258V264M1367 270V276M1367 282V288M1367 294V300M1367 306V312M1367 318V324M1367 330V336M1367 342V348M1367 354V360M1367 366V372M1367 378V384M1367 390V396M1367 402V408M1367 414V420M1367 426V432M1367 438V444M1367 450V456M1367 462V468M1367 474V480M1367 486V492M1367 498V504M1367 510V516M1367 522V528M1367 534V540M1367 546V552M1367 558V564M1367 570V576M1367 582V588M1367 594V600M1367 606V612M1367 618V624M1367 630V636M1367 642V648M1367 654V660M1367 666V672M1367 678V684M1367 690V696M1367 702V708M1367 714V720M1367 726V732M1367 738V744M1367 750V756M1367 762V768M1367 774V780M1367 786V792M1367 798V804M1367 810V816M1367 822V828M1367 834V840M1367 846V852M1367 858V864M1367 870V876M1367 882V888M1367 894V900M1367 906V912M1367 918V924M1367 930V936M1367 942V948M1367 954V960M1367 966V972M1367 978V984M1367 990V996M1367 1002V1008M1367 1014V1020M1367 1026V1032M1367 1038V1044M1367 1050V1056M1367 1062V1068M1367 1074V1080M1367 1086V1092M1367 1098V1104M1367 1110V1116M1367 1122V1128M1367 1134V1140M1367 1146V1152M1367 1158V1164M1367 1170V1176M1367 1182V1188M1367 1194V1200M1367 1206V1212M1367 1218V1224M1427 8V12M1427 18V24M1427 30V36M1427 42V48M1427 54V60M1427 66V72M1427 78V84M1427 90V96M1427 102V108M1427 114V120M1427 126V132M1427 138V144M1427 150V156M1427 162V168M1427 174V180M1427 186V192M1427 198V204M1427 210V216M1427 222V228M1427 234V240M1427 246V252M1427 258V264M1427 270V276M1427 282V288M1427 294V300M1427 306V312M1427 318V324M1427 330V336M1427 342V348M1427 354V360M1427 366V372M1427 378V384M1427 390V396M1427 402V408M1427 414V420M1427 426V432M1427 438V444M1427 450V456M1427 462V468M1427 474V480M1427 486V492M1427 498V504M1427 510V516M1427 522V528M1427 534V540M1427 546V552M1427 558V564M1427 570V576M1427 582V588M1427 594V600M1427 606V612M1427 618V624M1427 630V636M1427 642V648M1427 654V660M1427 666V672M1427 678V684M1427 690V696M1427 702V708M1427 714V720M1427 726V732M1427 738V744M1427 750V756M1427 762V768M1427 774V780M1427 786V792M1427 798V804M1427 810V816M1427 822V828M1427 834V840M1427 846V852M1427 858V864M1427 870V876M1427 882V888M1427 894V900M1427 906V912M1427 918V924M1427 930V936M1427 942V948M1427 954V960M1427 966V972M1427 978V984M1427 990V996M1427 1002V1008M1427 1014V1020M1427 1026V1032M1427 1038V1044M1427 1050V1056M1427 1062V1068M1427 1074V1080M1427 1086V1092M1427 1098V1104M1427 1110V1116M1427 1122V1128M1427 1134V1140M1427 1146V1152M1427 1158V1164M1427 1170V1176M1427 1182V1188M1427 1194V1200M1427 1206V1212M1427 1218V1224M1475 8V12M1475 18V24M1475 30V36M1475 42V48M1475 54V60M1475 66V72M1475 78V84M1475 90V96M1475 102V108M1475 114V120M1475 126V132M1475 138V144M1475 150V156M1475 162V168M1475 174V180M1475 186V192M1475 198V204M1475 210V216M1475 222V228M1475 234V240M1475 246V252M1475 258V264M1475 270V276M1475 282V288M1475 294V300M1475 306V312M1475 318V324M1475 330V336M1475 342V348M1475 354V360M1475 366V372M1475 378V384M1475 390V396M1475 402V408M1475 414V420M1475 426V432M1475 438V444M1475 450V456M1475 462V468M1475 474V480M1475 486V492M1475 498V504M1475 510V516M1475 522V528M1475 534V540M1475 546V552M1475 558V564M1475 570V576M1475 582V588M1475 594V600M1475 606V612M1475 618V624M1475 630V636M1475 642V648M1475 654V660M1475 666V672M1475 678V684M1475 690V696M1475 702V708M1475 714V720M1475 726V732M1475 738V744M1475 750V756M1475 762V768M1475 774V780M1475 786V792M1475 798V804M1475 810V816M1475 822V828M1475 834V840M1475 846V852M1475 858V864M1475 870V876M1475 882V888M1475 894V900M1475 906V912M1475 918V924M1475 930V936M1475 942V948M1475 954V960M1475 966V972M1475 978V984M1475 990V996M1475 1002V1008M1475 1014V1020M1475 1026V1032M1475 1038V1044M1475 1050V1056M1475 1062V1068M1475 1074V1080M1475 1086V1092M1475 1098V1104M1475 1110V1116M1475 1122V1128M1475 1134V1140M1475 1146V1152M1475 1158V1164M1475 1170V1176M1475 1182V1188M1475 1194V1200M1475 1206V1212M1475 1218V1224M1535 8V12M1535 18V24M1535 30V36M1535 42V48M1535 54V60M1535 66V72M1535 78V84M1535 90V96M1535 102V108M1535 114V120M1535 126V132M1535 138V144M1535 150V156M1535 162V168M1535 174V180M1535 186V192M1535 198V204M1535 210V216M1535 222V228M1535 234V240M1535 246V252M1535 258V264M1535 270V276M1535 282V288M1535 294V300M1535 306V312M1535 318V324M1535 330V336M1535 342V348M1535 354V360M1535 366V372M1535 378V384M1535 390V396M1535 402V408M1535 414V420M1535 426V432M1535 438V444M1535 450V456M1535 462V468M1535 474V480M1535 486V492M1535 498V504M1535 510V516M1535 522V528M1535 534V540M1535 546V552M1535 558V564M1535 570V576M1535 582V588M1535 594V600M1535 606V612M1535 618V624M1535 630V636M1535 642V648M1535 654V660M1535 666V672M1535 678V684M1535 690V696M1535 702V708M1535 714V720M1535 726V732M1535 738V744M1535 750V756M1535 762V768M1535 774V780M1535 786V792M1535 798V804M1535 810V816M1535 822V828M1535 834V840M1535 846V852M1535 858V864M1535 870V876M1535 882V888M1535 894V900M1535 906V912M1535 918V924M1535 930V936M1535 942V948M1535 954V960M1535 966V972M1535 978V984M1535 990V996M1535 1002V1008M1535 1014V1020M1535 1026V1032M1535 1038V1044M1535 1050V1056M1535 1062V1068M1535 1074V1080M1535 1086V1092M1535 1098V1104M1535 1110V1116M1535 1122V1128M1535 1134V1140M1535 1146V1152M1535 1158V1164M1535 1170V1176M1535 1182V1188M1535 1194V1200M1535 1206V1212M1535 1218V1224M1595 8V12M1595 18V24M1595 30V36M1595 42V48M1595 54V60M1595 66V72M1595 78V84M1595 90V96M1595 102V108M1595 114V120M1595 126V132M1595 138V144M1595 150V156M1595 162V168M1595 174V180M1595 186V192M1595 198V204M1595 210V216M1595 222V228M1595 234V240M1595 246V252M1595 258V264M1595 270V276M1595 282V288M1595 294V300M1595 306V312M1595 318V324M1595 330V336M1595 342V348M1595 354V360M1595 366V372M1595 378V384M1595 390V396M1595 402V408M1595 414V420M1595 426V432M1595 438V444M1595 450V456M1595 462V468M1595 474V480M1595 486V492M1595 498V504M1595 510V516M1595 522V528M1595 534V540M1595 546V552M1595 558V564M1595 570V576M1595 582V588M1595 594V600M1595 606V612M1595 618V624M1595 630V636M1595 642V648M1595 654V660M1595 666V672M1595 678V684M1595 690V696M1595 702V708M1595 714V720M1595 726V732M1595 738V744M1595 750V756M1595 762V768M1595 774V780M1595 786V792M1595 798V804M1595 810V816M1595 822V828M1595 834V840M1595 846V852M1595 858V864M1595 870V876M1595 882V888M1595 894V900M1595 906V912M1595 918V924M1595 930V936M1595 942V948M1595 954V960M1595 966V972M1595 978V984M1595 990V996M1595 1002V1008M1595 1014V1020M1595 1026V1032M1595 1038V1044M1595 1050V1056M1595 1062V1068M1595 1074V1080M1595 1086V1092M1595 1098V1104M1595 1110V1116M1595 1122V1128M1595 1134V1140M1595 1146V1152M1595 1158V1164M1595 1170V1176M1595 1182V1188M1595 1194V1200M1595 1206V1212M1595 1218V1224M1655 8V12M1655 18V24M1655 30V36M1655 42V48M1655 54V60M1655 66V72M1655 78V84M1655 90V96M1655 102V108M1655 114V120M1655 126V132M1655 138V144M1655 150V156M1655 162V168M1655 174V180M1655 186V192M1655 198V204M1655 210V216M1655 222V228M1655 234V240M1655 246V252M1655 258V264M1655 270V276M1655 282V288M1655 294V300M1655 306V312M1655 318V324M1655 330V336M1655 342V348M1655 354V360M1655 366V372M1655 378V384M1655 390V396M1655 402V408M1655 414V420M1655 426V432M1655 438V444M1655 450V456M1655 462V468M1655 474V480M1655 486V492M1655 498V504M1655 510V516M1655 522V528M1655 534V540M1655 546V552M1655 558V564M1655 570V576M1655 582V588M1655 594V600M1655 606V612M1655 618V624M1655 630V636M1655 642V648M1655 654V660M1655 666V672M1655 678V684M1655 690V696M1655 702V708M1655 714V720M1655 726V732M1655 738V744M1655 750V756M1655 762V768M1655 774V780M1655 786V792M1655 798V804M1655 810V816M1655 822V828M1655 834V840M1655 846V852M1655 858V864M1655 870V876M1655 882V888M1655 894V900M1655 906V912M1655 918V924M1655 930V936M1655 942V948M1655 954V960M1655 966V972M1655 978V984M1655 990V996M1655 1002V1008M1655 1014V1020M1655 1026V1032M1655 1038V1044M1655 1050V1056M1655 1062V1068M1655 1074V1080M1655 1086V1092M1655 1098V1104M1655 1110V1116M1655 1122V1128M1655 1134V1140M1655 1146V1152M1655 1158V1164M1655 1170V1176M1655 1182V1188M1655 1194V1200M1655 1206V1212M1655 1218V1224M1715 8V12M1715 18V24M1715 30V36M1715 42V48M1715 54V60M1715 66V72M1715 78V84M1715 90V96M1715 102V108M1715 114V120M1715 126V132M1715 138V144M1715 150V156M1715 162V168M1715 174V180M1715 186V192M1715 198V204M1715 210V216M1715 222V228M1715 234V240M1715 246V252M1715 258V264M1715 270V276M1715 282V288M1715 294V300M1715 306V312M1715 318V324M1715 330V336M1715 342V348M1715 354V360M1715 366V372M1715 378V384M1715 390V396M1715 402V408M1715 414V420M1715 426V432M1715 438V444M1715 450V456M1715 462V468M1715 474V480M1715 486V492M1715 498V504M1715 510V516M1715 522V528M1715 534V540M1715 546V552M1715 558V564M1715 570V576M1715 582V588M1715 594V600M1715 606V612M1715 618V624M1715 630V636M1715 642V648M1715 654V660M1715 666V672M1715 678V684M1715 690V696M1715 702V708M1715 714V720M1715 726V732M1715 738V744M1715 750V756M1715 762V768M1715 774V780M1715 786V792M1715 798V804M1715 810V816M1715 822V828M1715 834V840M1715 846V852M1715 858V864M1715 870V876M1715 882V888M1715 894V900M1715 906V912M1715 918V924M1715 930V936M1715 942V948M1715 954V960M1715 966V972M1715 978V984M1715 990V996M1715 1002V1008M1715 1014V1020M1715 1026V1032M1715 1038V1044M1715 1050V1056M1715 1062V1068M1715 1074V1080M1715 1086V1092M1715 1098V1104M1715 1110V1116M1715 1122V1128M1715 1134V1140M1715 1146V1152M1715 1158V1164M1715 1170V1176M1715 1182V1188M1715 1194V1200M1715 1206V1212M1715 1218V1224M1775 8V12M1775 18V24M1775 30V36M1775 42V48M1775 54V60M1775 66V72M1775 78V84M1775 90V96M1775 102V108M1775 114V120M1775 126V132M1775 138V144M1775 150V156M1775 162V168M1775 174V180M1775 186V192M1775 198V204M1775 210V216M1775 222V228M1775 234V240M1775 246V252M1775 258V264M1775 270V276M1775 282V288M1775 294V300M1775 306V312M1775 318V324M1775 330V336M1775 342V348M1775 354V360M1775 366V372M1775 378V384M1775 390V396M1775 402V408M1775 414V420M1775 426V432M1775 438V444M1775 450V456M1775 462V468M1775 474V480M1775 486V492M1775 498V504M1775 510V516M1775 522V528M1775 534V540M1775 546V552M1775 558V564M1775 570V576M1775 582V588M1775 594V600M1775 606V612M1775 618V624M1775 630V636M1775 642V648M1775 654V660M1775 666V672M1775 678V684M1775 690V696M1775 702V708M1775 714V720M1775 726V732M1775 738V744M1775 750V756M1775 762V768M1775 774V780M1775 786V792M1775 798V804M1775 810V816M1775 822V828M1775 834V840M1775 846V852M1775 858V864M1775 870V876M1775 882V888M1775 894V900M1775 906V912M1775 918V924M1775 930V936M1775 942V948M1775 954V960M1775 966V972M1775 978V984M1775 990V996M1775 1002V1008M1775 1014V1020M1775 1026V1032M1775 1038V1044M1775 1050V1056M1775 1062V1068M1775 1074V1080M1775 1086V1092M1775 1098V1104M1775 1110V1116M1775 1122V1128M1775 1134V1140M1775 1146V1152M1775 1158V1164M1775 1170V1176M1775 1182V1188M1775 1194V1200M1775 1206V1212M1775 1218V1224M1835 8V12M1835 18V24M1835 30V36M1835 42V48M1835 54V60M1835 66V72M1835 78V84M1835 90V96M1835 102V108M1835 114V120M1835 126V132M1835 138V144M1835 150V156M1835 162V168M1835 174V180M1835 186V192M1835 198V204M1835 210V216M1835 222V228M1835 234V240M1835 246V252M1835 258V264M1835 270V276M1835 282V288M1835 294V300M1835 306V312M1835 318V324M1835 330V336M1835 342V348M1835 354V360M1835 366V372M1835 378V384M1835 390V396M1835 402V408M1835 414V420M1835 426V432M1835 438V444M1835 450V456M1835 462V468M1835 474V480M1835 486V492M1835 498V504M1835 510V516M1835 522V528M1835 534V540M1835 546V552M1835 558V564M1835 570V576M1835 582V588M1835 594V600M1835 606V612M1835 618V624M1835 630V636M1835 642V648M1835 654V660M1835 666V672M1835 678V684M1835 690V696M1835 702V708M1835 714V720M1835 726V732M1835 738V744M1835 750V756M1835 762V768M1835 774V780M1835 786V792M1835 798V804M1835 810V816M1835 822V828M1835 834V840M1835 846V852M1835 858V864M1835 870V876M1835 882V888M1835 894V900M1835 906V912M1835 918V924M1835 930V936M1835 942V948M1835 954V960M1835 966V972M1835 978V984M1835 990V996M1835 1002V1008M1835 1014V1020M1835 1026V1032M1835 1038V1044M1835 1050V1056M1835 1062V1068M1835 1074V1080M1835 1086V1092M1835 1098V1104M1835 1110V1116M1835 1122V1128M1835 1134V1140M1835 1146V1152M1835 1158V1164M1835 1170V1176M1835 1182V1188M1835 1194V1200M1835 1206V1212M1835 1218V1224M1895 8V12M1895 18V24M1895 30V36M1895 42V48M1895 54V60M1895 66V72M1895 78V84M1895 90V96M1895 102V108M1895 114V120M1895 126V132M1895 138V144M1895 150V156M1895 162V168M1895 174V180M1895 186V192M1895 198V204M1895 210V216M1895 222V228M1895 234V240M1895 246V252M1895 258V264M1895 270V276M1895 282V288M1895 294V300M1895 306V312M1895 318V324M1895 330V336M1895 342V348M1895 354V360M1895 366V372M1895 378V384M1895 390V396M1895 402V408M1895 414V420M1895 426V432M1895 438V444M1895 450V456M1895 462V468M1895 474V480M1895 486V492M1895 498V504M1895 510V516M1895 522V528M1895 534V540M1895 546V552M1895 558V564M1895 570V576M1895 582V588M1895 594V600M1895 606V612M1895 618V624M1895 630V636M1895 642V648M1895 654V660M1895 666V672M1895 678V684M1895 690V696M1895 702V708M1895 714V720M1895 726V732M1895 738V744M1895 750V756M1895 762V768M1895 774V780M1895 786V792M1895 798V804M1895 810V816M1895 822V828M1895 834V840M1895 846V852M1895 858V864M1895 870V876M1895 882V888M1895 894V900M1895 906V912M1895 918V924M1895 930V936M1895 942V948M1895 954V960M1895 966V972M1895 978V984M1895 990V996M1895 1002V1008M1895 1014V1020M1895 1026V1032M1895 1038V1044M1895 1050V1056M1895 1062V1068M1895 1074V1080M1895 1086V1092M1895 1098V1104M1895 1110V1116M1895 1122V1128M1895 1134V1140M1895 1146V1152M1895 1158V1164M1895 1170V1176M1895 1182V1188M1895 1194V1200M1895 1206V1212M1895 1218V1224M1955 8V12M1955 18V24M1955 30V36M1955 42V48M1955 54V60M1955 66V72M1955 78V84M1955 90V96M1955 102V108M1955 114V120M1955 126V132M1955 138V144M1955 150V156M1955 162V168M1955 174V180M1955 186V192M1955 198V204M1955 210V216M1955 222V228M1955 234V240M1955 246V252M1955 258V264M1955 270V276M1955 282V288M1955 294V300M1955 306V312M1955 318V324M1955 330V336M1955 342V348M1955 354V360M1955 366V372M1955 378V384M1955 390V396M1955 402V408M1955 414V420M1955 426V432M1955 438V444M1955 450V456M1955 462V468M1955 474V480M1955 486V492M1955 498V504M1955 510V516M1955 522V528M1955 534V540M1955 546V552M1955 558V564M1955 570V576M1955 582V588M1955 594V600M1955 606V612M1955 618V624M1955 630V636M1955 642V648M1955 654V660M1955 666V672M1955 678V684M1955 690V696M1955 702V708M1955 714V720M1955 726V732M1955 738V744M1955 750V756M1955 762V768M1955 774V780M1955 786V792M1955 798V804M1955 810V816M1955 822V828M1955 834V840M1955 846V852M1955 858V864M1955 870V876M1955 882V888M1955 894V900M1955 906V912M1955 918V924M1955 930V936M1955 942V948M1955 954V960M1955 966V972M1955 978V984M1955 990V996M1955 1002V1008M1955 1014V1020M1955 1026V1032M1955 1038V1044M1955 1050V1056M1955 1062V1068M1955 1074V1080M1955 1086V1092M1955 1098V1104M1955 1110V1116M1955 1122V1128M1955 1134V1140M1955 1146V1152M1955 1158V1164M1955 1170V1176M1955 1182V1188M1955 1194V1200M1955 1206V1212M1955 1218V1224M2015 8V12M2015 18V24M2015 30V36M2015 42V48M2015 54V60M2015 66V72M2015 78V84M2015 90V96M2015 102V108M2015 114V120M2015 126V132M2015 138V144M2015 150V156M2015 162V168M2015 174V180M2015 186V192M2015 198V204M2015 210V216M2015 222V228M2015 234V240M2015 246V252M2015 258V264M2015 270V276M2015 282V288M2015 294V300M2015 306V312M2015 318V324M2015 330V336M2015 342V348M2015 354V360M2015 366V372M2015 378V384M2015 390V396M2015 402V408M2015 414V420M2015 426V432M2015 438V444M2015 450V456M2015 462V468M2015 474V480M2015 486V492M2015 498V504M2015 510V516M2015 522V528M2015 534V540M2015 546V552M2015 558V564M2015 570V576M2015 582V588M2015 594V600M2015 606V612M2015 618V624M2015 630V636M2015 642V648M2015 654V660M2015 666V672M2015 678V684M2015 690V696M2015 702V708M2015 714V720M2015 726V732M2015 738V744M2015 750V756M2015 762V768M2015 774V780M2015 786V792M2015 798V804M2015 810V816M2015 822V828M2015 834V840M2015 846V852M2015 858V864M2015 870V876M2015 882V888M2015 894V900M2015 906V912M2015 918V924M2015 930V936M2015 942V948M2015 954V960M2015 966V972M2015 978V984M2015 990V996M2015 1002V1008M2015 1014V1020M2015 1026V1032M2015 1038V1044M2015 1050V1056M2015 1062V1068M2015 1074V1080M2015 1086V1092M2015 1098V1104M2015 1110V1116M2015 1122V1128M2015 1134V1140M2015 1146V1152M2015 1158V1164M2015 1170V1176M2015 1182V1188M2015 1194V1200M2015 1206V1212M2015 1218V1224M2075 8V12M2075 18V24M2075 30V36M2075 42V48M2075 54V60M2075 66V72M2075 78V84M2075 90V96M2075 102V108M2075 114V120M2075 126V132M2075 138V144M2075 150V156M2075 162V168M2075 174V180M2075 186V192M2075 198V204M2075 210V216M2075 222V228M2075 234V240M2075 246V252M2075 258V264M2075 270V276M2075 282V288M2075 294V300M2075 306V312M2075 318V324M2075 330V336M2075 342V348M2075 354V360M2075 366V372M2075 378V384M2075 390V396M2075 402V408M2075 414V420M2075 426V432M2075 438V444M2075 450V456M2075 462V468M2075 474V480M2075 486V492M2075 498V504M2075 510V516M2075 522V528M2075 534V540M2075 546V552M2075 558V564M2075 570V576M2075 582V588M2075 594V600M2075 606V612M2075 618V624M2075 630V636M2075 642V648M2075 654V660M2075 666V672M2075 678V684M2075 690V696M2075 702V708M2075 714V720M2075 726V732M2075 738V744M2075 750V756M2075 762V768M2075 774V780M2075 786V792M2075 798V804M2075 810V816M2075 822V828M2075 834V840M2075 846V852M2075 858V864M2075 870V876M2075 882V888M2075 894V900M2075 906V912M2075 918V924M2075 930V936M2075 942V948M2075 954V960M2075 966V972M2075 978V984M2075 990V996M2075 1002V1008M2075 1014V1020M2075 1026V1032M2075 1038V1044M2075 1050V1056M2075 1062V1068M2075 1074V1080M2075 1086V1092M2075 1098V1104M2075 1110V1116M2075 1122V1128M2075 1134V1140M2075 1146V1152M2075 1158V1164M2075 1170V1176M2075 1182V1188M2075 1194V1200M2075 1206V1212M2075 1218V1224M2135 8V12M2135 18V24M2135 30V36M2135 42V48M2135 54V60M2135 66V72M2135 78V84M2135 90V96M2135 102V108M2135 114V120M2135 126V132M2135 138V144M2135 150V156M2135 162V168M2135 174V180M2135 186V192M2135 198V204M2135 210V216M2135 222V228M2135 234V240M2135 246V252M2135 258V264M2135 270V276M2135 282V288M2135 294V300M2135 306V312M2135 318V324M2135 330V336M2135 342V348M2135 354V360M2135 366V372M2135 378V384M2135 390V396M2135 402V408M2135 414V420M2135 426V432M2135 438V444M2135 450V456M2135 462V468M2135 474V480M2135 486V492M2135 498V504M2135 510V516M2135 522V528M2135 534V540M2135 546V552M2135 558V564M2135 570V576M2135 582V588M2135 594V600M2135 606V612M2135 618V624M2135 630V636M2135 642V648M2135 654V660M2135 666V672M2135 678V684M2135 690V696M2135 702V708M2135 714V720M2135 726V732M2135 738V744M2135 750V756M2135 762V768M2135 774V780M2135 786V792M2135 798V804M2135 810V816M2135 822V828M2135 834V840M2135 846V852M2135 858V864M2135 870V876M2135 882V888M2135 894V900M2135 906V912M2135 918V924M2135 930V936M2135 942V948M2135 954V960M2135 966V972M2135 978V984M2135 990V996M2135 1002V1008M2135 1014V1020M2135 1026V1032M2135 1038V1044M2135 1050V1056M2135 1062V1068M2135 1074V1080M2135 1086V1092M2135 1098V1104M2135 1110V1116M2135 1122V1128M2135 1134V1140M2135 1146V1152M2135 1158V1164M2135 1170V1176M2135 1182V1188M2135 1194V1200M2135 1206V1212M2135 1218V1224M2195 8V12M2195 18V24M2195 30V36M2195 42V48M2195 54V60M2195 66V72M2195 78V84M2195 90V96M2195 102V108M2195 114V120M2195 126V132M2195 138V144M2195 150V156M2195 162V168M2195 174V180M2195 186V192M2195 198V204M2195 210V216M2195 222V228M2195 234V240M2195 246V252M2195 258V264M2195 270V276M2195 282V288M2195 294V300M2195 306V312M2195 318V324M2195 330V336M2195 342V348M2195 354V360M2195 366V372M2195 378V384M2195 390V396M2195 402V408M2195 414V420M2195 426V432M2195 438V444M2195 450V456M2195 462V468M2195 474V480M2195 486V492M2195 498V504M2195 510V516M2195 522V528M2195 534V540M2195 546V552M2195 558V564M2195 570V576M2195 582V588M2195 594V600M2195 606V612M2195 618V624M2195 630V636M2195 642V648M2195 654V660M2195 666V672M2195 678V684M2195 690V696M2195 702V708M2195 714V720M2195 726V732M2195 738V744M2195 750V756M2195 762V768M2195 774V780M2195 786V792M2195 798V804M2195 810V816M2195 822V828M2195 834V840M2195 846V852M2195 858V864M2195 870V876M2195 882V888M2195 894V900M2195 906V912M2195 918V924M2195 930V936M2195 942V948M2195 954V960M2195 966V972M2195 978V984M2195 990V996M2195 1002V1008M2195 1014V1020M2195 1026V1032M2195 1038V1044M2195 1050V1056M2195 1062V1068M2195 1074V1080M2195 1086V1092M2195 1098V1104M2195 1110V1116M2195 1122V1128M2195 1134V1140M2195 1146V1152M2195 1158V1164M2195 1170V1176M2195 1182V1188M2195 1194V1200M2195 1206V1212M2195 1218V1224M2255 8V12M2255 18V24M2255 30V36M2255 42V48M2255 54V60M2255 66V72M2255 78V84M2255 90V96M2255 102V108M2255 114V120M2255 126V132M2255 138V144M2255 150V156M2255 162V168M2255 174V180M2255 186V192M2255 198V204M2255 210V216M2255 222V228M2255 234V240M2255 246V252M2255 258V264M2255 270V276M2255 282V288M2255 294V300M2255 306V312M2255 318V324M2255 330V336M2255 342V348M2255 354V360M2255 366V372M2255 378V384M2255 390V396M2255 402V408M2255 414V420M2255 426V432M2255 438V444M2255 450V456M2255 462V468M2255 474V480M2255 486V492M2255 498V504M2255 510V516M2255 522V528M2255 534V540M2255 546V552M2255 558V564M2255 570V576M2255 582V588M2255 594V600M2255 606V612M2255 618V624M2255 630V636M2255 642V648M2255 654V660M2255 666V672M2255 678V684M2255 690V696M2255 702V708M2255 714V720M2255 726V732M2255 738V744M2255 750V756M2255 762V768M2255 774V780M2255 786V792M2255 798V804M2255 810V816M2255 822V828M2255 834V840M2255 846V852M2255 858V864M2255 870V876M2255 882V888M2255 894V900M2255 906V912M2255 918V924M2255 930V936M2255 942V948M2255 954V960M2255 966V972M2255 978V984M2255 990V996M2255 1002V1008M2255 1014V1020M2255 1026V1032M2255 1038V1044M2255 1050V1056M2255 1062V1068M2255 1074V1080M2255 1086V1092M2255 1098V1104M2255 1110V1116M2255 1122V1128M2255 1134V1140M2255 1146V1152M2255 1158V1164M2255 1170V1176M2255 1182V1188M2255 1194V1200M2255 1206V1212M2255 1218V1224M2327 8V12M2327 18V24M2327 30V36M2327 42V48M2327 54V60M2327 66V72M2327 78V84M2327 90V96M2327 102V108M2327 114V120M2327 126V132M2327 138V144M2327 150V156M2327 162V168M2327 174V180M2327 186V192M2327 198V204M2327 210V216M2327 222V228M2327 234V240M2327 246V252M2327 258V264M2327 270V276M2327 282V288M2327 294V300M2327 306V312M2327 318V324M2327 330V336M2327 342V348M2327 354V360M2327 366V372M2327 378V384M2327 390V396M2327 402V408M2327 414V420M2327 426V432M2327 438V444M2327 450V456M2327 462V468M2327 474V480M2327 486V492M2327 498V504M2327 510V516M2327 522V528M2327 534V540M2327 546V552M2327 558V564M2327 570V576M2327 582V588M2327 594V600M2327 606V612M2327 618V624M2327 630V636M2327 642V648M2327 654V660M2327 666V672M2327 678V684M2327 690V696M2327 702V708M2327 714V720M2327 726V732M2327 738V744M2327 750V756M2327 762V768M2327 774V780M2327 786V792M2327 798V804M2327 810V816M2327 822V828M2327 834V840M2327 846V852M2327 858V864M2327 870V876M2327 882V888M2327 894V900M2327 906V912M2327 918V924M2327 930V936M2327 942V948M2327 954V960M2327 966V972M2327 978V984M2327 990V996M2327 1002V1008M2327 1014V1020M2327 1026V1032M2327 1038V1044M2327 1050V1056M2327 1062V1068M2327 1074V1080M2327 1086V1092M2327 1098V1104M2327 1110V1116M2327 1122V1128M2327 1134V1140M2327 1146V1152M2327 1158V1164M2327 1170V1176M2327 1182V1188M2327 1194V1200M2327 1206V1212M2327 1218V1224" stroke="#000" stroke-width="2" fill="none"/>
</g>
<path d="M1874 8H1892L1883 18Z" fill="#c0c0c0"/>
<path d="M10 1222V1230H18Z" fill="#c0c0c0"/>
<path d="M11 632V684M13 666V676M15 662V672M17 654V674M19 642V666M21 638V654M23 642V668M25 642V660M27 648V652M29 648V670M31 626V668M33 618V646M35 620V674M37 652V668M39 648V664M41 642V662M43 646V668M45 640V660M47 634V658M49 632V654M51 630V658M53 636V654M55 646V664M57 648V664M59 642V680M61 642V652M63 640V648M65 630V646M67 632V646M69 620V664M71 624V662M73 634V646M75 642V650M77 628V644M79 624V636M81 592V630M83 594V610M85 594V610M87 594V602M89 592V606M91 580V600M93 584V608M95 596V614M97 590V600M99 586V594M101 586V596M103 596V612M105 600V624M107 598V638M109 622V640M111 618V636M113 622V634M115 630V654M117 636V672M119 624V650M121 630V644M123 628V636M125 616V632M127 618V634M129 604V632M131 602V648M133 632V646M135 634V642M137 636V648M139 628V652M141 640V674M143 648V668M145 648V656M147 652V666M149 652V666M151 652V678M153 646V674M155 642V670M157 642V670M159 640V646M161 636V656M163 648V658M165 648V684M167 650V672M169 654V664M171 642V664M173 644V650M175 634V656M177 650V658M179 650V668M181 660V668M183 664V668M185 660V674M187 648V674M189 648V672M191 650V674M193 656V664M195 658V666M197 644V666M199 644V666M201 656V672M203 654V674M205 640V678M207 636V646M209 620V638M211 608V622M213 594V614M215 584V606M217 586V598M219 586V598M221 588V598M223 588V600M225 590V610M227 596V628M229 622V636M231 618V634M233 622V640M235 630V646M237 634V648M239 618V646M241 614V630M243 628V632M245 628V638M247 632V642M249 630V640M251 630V638M253 628V638M255 628V636M257 626V636M259 620V628M261 584V644M263 614V626M265 624V638M267 628V638M269 628V638M271 626V640M273 634V648M275 630V664M277 646V658M279 650V660M281 660V668M283 660V668M285 664V716M287 716V756M289 738V756M291 738V940M293 796V830M295 772V806M297 780V806M299 788V838M301 820V836M303 816V826M305 804V826M307 804V830M309 818V832M311 818V852M313 820V828M315 822V836M317 812V838M319 814V826M321 782V818M323 772V804M325 766V780M327 768V780M329 772V776M331 758V792M333 768V796M335 768V778M337 768V776M339 768V774M341 762V772M343 754V764M345 746V762M347 708V748M349 702V718M351 702V716M353 710V718M355 704V726M357 704V728M359 686V712M361 688V694M363 688V694M365 686V696M367 672V694M369 670V688M371 676V706M373 692V702M375 692V696M377 678V694M379 676V692M381 682V700M383 682V714M385 682V706M387 686V698M389 694V720M391 688V718M393 684V698M395 678V714M397 700V716M399 702V710M401 692V706M403 688V706M405 692V708M407 692V712M409 696V702M411 690V720M413 686V716M415 686V698M417 660V692M419 646V670M421 646V654M423 646V656M425 650V658M427 648V658M429 638V658M431 640V656M433 644V654M435 654V674M437 662V676M439 666V680M441 672V686M443 674V700M445 682V690M447 680V688M449 680V688M451 684V692M453 674V706M455 678V688M457 670V680M459 666V676M461 650V674M463 650V674M465 648V672M467 622V696M469 628V648M471 606V628M473 618V630M475 620V630M477 622V630M479 624V640M481 632V642M483 630V638M485 624V632M487 616V630M489 620V640M491 624V656M493 622V626M495 626V634M497 626V634M499 620V638M501 614V640M503 626V630M505 626V630M507 626V632M509 624V636M511 624V636M513 620V638M515 628V648M517 634V644M519 634V644M521 626V634M523 626V634M525 592V626M527 582V592M529 582V592M531 592V598M533 594V604M535 594V604M537 600V606M539 604V610M541 602V610M543 596V610M545 610V626M547 626V642M549 640V678M551 664V674M553 664V674M555 658V672M557 658V668M559 656V668M561 666V702M563 676V688M565 682V688M567 682V688M569 674V692M571 658V682M573 662V696M575 662V678M577 662V678M579 662V678M581 652V668M583 656V678M585 668V682M587 678V692M589 678V696M591 676V696M593 676V688M595 678V690M597 664V696M599 674V682M601 674V682M603 678V682M605 672V688M607 662V706M609 640V682M611 650V654M613 652V654M615 650V656M617 644V662M619 658V672M621 668V680M623 674V682M625 670V682M627 670V696M629 678V700M631 698V752M633 750V788M635 760V774M637 760V770M639 752V768M641 738V770M643 738V770M645 760V784M647 770V776M649 762V792M651 770V796M653 762V782M655 752V768M657 740V758M659 740V752M661 740V752M663 740V752M665 740V758M667 718V744M669 704V730M671 716V722M673 710V726M675 710V726M677 706V720M679 714V728M681 708V722M683 690V740M685 738V748M687 738V748M689 732V752M691 716V752M693 744V784M695 770V806M697 778V792M699 770V792M701 766V780M703 760V778M705 770V800M707 770V790M709 752V790M711 752V776M713 752V772M715 768V790M717 758V778M719 772V778M721 772V778M723 766V782M725 772V792M727 792V828M729 800V824M731 806V816M733 806V816M735 800V812M737 794V808M739 788V806M741 802V836M743 832V844M745 812V832M747 812V832M749 814V830M751 806V840M753 744V812M755 756V774M757 762V776M759 762V776M761 760V776M763 760V778M765 744V760M767 756V770M769 738V758M771 748V762M773 748V762M775 752V780M777 730V778M779 732V748M781 732V748M783 738V758M785 752V768M787 754V770M789 750V778M791 746V758M793 754V768M795 754V768M797 766V786M799 752V766M801 744V752M803 744V748M805 744V754M807 748V754M809 738V758M811 748V766M813 752V766M815 754V770M817 760V768M819 752V766M821 752V766M823 714V760M825 704V762M827 752V762M829 752V778M831 758V766M833 758V766M835 758V776M837 754V770M839 762V768M841 764V770M843 756V776M845 752V768M847 742V760M849 732V756M851 746V752M853 750V754M855 746V752M857 732V756M859 712V756M861 670V756M863 682V688M865 676V682M867 672V690M869 664V674M871 664V674M873 662V674M875 668V672M877 668V674M879 668V676M881 674V692M883 690V740M885 716V740M887 732V738M889 726V742M891 728V734M893 732V752M895 734V752M897 728V746M899 736V744M901 736V746M903 716V736M905 700V722M907 696V716M909 696V738M911 728V734M913 728V736M915 720V734M917 708V722M919 688V718M921 690V720M923 696V706M925 694V704M927 686V704M929 690V704M931 688V716M933 696V710M935 692V710M937 692V698M939 692V698M941 672V692M943 644V680M945 628V700M947 664V682M949 654V678M951 656V678M953 650V666M955 646V662M957 638V656M959 640V648M961 642V648M963 642V648M965 644V660M967 650V674M969 672V702M971 672V682M973 674V684M975 676V690M977 680V700M979 670V698M981 664V680M983 662V674M985 666V674M987 652V674M989 650V662M991 644V670M993 636V678M995 656V664M997 658V666M999 662V674M1001 662V682M1003 664V716M1005 698V726M1007 698V712M1009 690V704M1011 690V698M1013 692V704M1015 670V692M1017 670V690M1019 670V680M1021 676V686M1023 676V686M1025 668V680M1027 670V688M1029 676V692M1031 684V696M1033 688V702M1035 698V708M1037 698V712M1039 694V740M1041 718V756M1043 718V752M1045 712V728M1047 712V720M1049 712V728M1051 670V716M1053 664V680M1055 672V682M1057 670V684M1059 668V676M1061 660V674M1063 652V696M1065 624V670M1067 618V636M1069 606V630M1071 610V624M1073 612V632M1075 602V616M1077 598V608M1079 600V610M1081 598V612M1083 600V612M1085 598V616M1087 590V614M1089 590V602M1091 584V596M1093 584V600M1095 592V604M1097 598V606M1099 540V606M1101 500V562M1103 538V562M1105 538V558M1107 532V544M1109 510V534M1111 506V522M1113 506V522M1115 512V528M1117 516V528M1119 520V532M1121 520V542M1123 526V554M1125 506V530M1127 498V518M1129 498V518M1131 514V528M1133 512V530M1135 496V522M1137 504V516M1139 504V516M1141 506V516M1143 496V514M1145 496V514M1147 480V514M1149 500V538M1151 532V542M1153 532V540M1155 530V538M1157 516V536M1159 516V536M1161 504V520M1163 502V512M1165 496V510M1167 496V510M1169 504V522M1171 510V530M1173 510V530M1175 516V526M1177 514V528M1179 514V528M1181 510V540M1183 508V536M1185 510V560M1187 544V574M1189 544V574M1191 548V556M1193 554V564M1195 552V580M1197 570V644M1199 638V656M1201 634V644M1203 644V654M1205 638V678M1207 662V700M1209 672V702M1211 672V702M1213 668V690M1215 670V688M1217 668V686M1219 680V708M1221 680V708M1223 680V700M1225 680V686M1227 676V682M1229 672V682M1231 672V682M1233 678V688M1235 670V680M1237 662V680M1239 638V668M1241 624V662M1243 642V706M1245 660V702M1247 666V708M1249 664V680M1251 662V684M1253 662V702M1255 682V702M1257 684V702M1259 686V690M1261 666V686M1263 664V686M1265 664V686M1267 640V712M1269 708V714M1271 700V708M1273 676V712M1275 678V712M1277 678V712M1279 698V712M1281 698V712M1283 700V714M1285 702V718M1287 708V736M1289 704V724M1291 710V748M1293 730V750M1295 726V736M1297 716V730M1299 716V740M1301 710V740M1303 702V740M1305 692V708M1307 690V704M1309 692V710M1311 692V710M1313 696V716M1315 696V718M1317 704V710M1319 702V708M1321 704V714M1323 696V714M1325 696V724M1327 688V720M1329 692V700M1331 682V698M1333 682V698M1335 680V688M1337 676V708M1339 696V708M1341 692V700M1343 694V700M1345 690V702M1347 690V702M1349 692V722M1351 700V722M1353 710V724M1355 710V724M1357 708V718M1359 712V728M1361 694V728M1363 686V708M1365 696V708M1367 690V708M1369 688V698M1371 688V700M1373 680V700M1375 686V700M1377 686V696M1379 686V696M1381 684V698M1383 688V700M1385 694V724M1387 712V738M1389 724V728M1391 722V730M1393 724V738M1395 724V738M1397 722V736M1399 724V744M1401 706V772M1403 702V718M1405 698V706M1407 690V700M1409 674V700M1411 664V700M1413 660V666M1415 650V666M1417 650V660M1419 638V650M1421 628V650M1423 638V656M1425 648V668M1427 652V672M1429 650V664M1431 650V666M1433 660V672M1435 664V678M1437 674V688M1439 680V686M1441 676V684M1443 668V686M1445 660V672M1447 666V696M1449 684V692M1451 682V688M1453 682V688M1455 684V694M1457 672V688M1459 660V686M1461 648V660M1463 644V654M1465 640V650M1467 642V650M1469 638V652M1471 642V664M1473 636V644M1475 630V642M1477 636V644M1479 638V648M1481 640V654M1483 630V644M1485 630V638M1487 630V638M1489 628V634M1491 624V630M1493 614V626M1495 618V636M1497 634V648M1499 644V652M1501 644V648M1503 644V656M1505 654V686M1507 648V656M1509 648V656M1511 648V656M1513 650V664M1515 656V670M1517 650V664M1519 628V658M1521 620V628M1523 616V626M1525 616V626M1527 616V626M1529 598V616M1531 596V604M1533 590V600M1535 584V598M1537 598V612M1539 596V610M1541 596V648M1543 648V664M1545 648V658M1547 646V656M1549 644V654M1551 646V664M1553 646V664M1555 622V646M1557 622V628M1559 622V628M1561 622V628M1563 614V632M1565 594V618M1567 600V624M1569 602V642M1571 636V644M1573 636V652M1575 646V674M1577 672V692M1579 672V692M1581 676V690M1583 674V684M1585 672V686M1587 672V686M1589 670V702M1591 666V694M1593 670V686M1595 670V684M1597 670V678M1599 656V680M1601 656V680M1603 658V684M1605 654V664M1607 648V656M1609 640V652M1611 636V648M1613 640V656M1615 618V656M1617 616V630M1619 606V622M1621 610V620M1623 610V624M1625 610V624M1627 598V616M1629 596V604M1631 596V604M1633 594V602M1635 598V616M1637 606V632M1639 606V632M1641 606V614M1643 598V612M1645 596V610M1647 592V608M1649 598V610M1651 600V624M1653 600V624M1655 606V636M1657 612V620M1659 608V618M1661 608V618M1663 610V620M1665 614V618M1667 608V624M1669 608V624M1671 618V640M1673 614V646M1675 624V636M1677 624V636M1679 626V632M1681 628V636M1683 620V632M1685 600V622M1687 562V602M1689 560V568M1691 560V568M1693 560V574M1695 562V574M1697 548V572M1699 548V572M1701 562V574M1703 564V572M1705 568V576M1707 562V594M1709 560V588M1711 564V594M1713 564V594M1715 560V578M1717 566V574M1719 558V578M1721 562V592M1723 562V592M1725 558V570M1727 558V566M1729 558V566M1731 560V572M1733 562V578M1735 538V566M1737 534V548M1739 546V550M1741 546V550M1743 548V556M1745 550V560M1747 560V592M1749 582V624M1751 608V624M1753 608V624M1755 622V636M1757 622V666M1759 662V678M1761 664V676M1763 664V676M1765 662V670M1767 668V684M1769 676V704M1771 676V698M1773 676V698M1775 678V696M1777 676V692M1779 676V692M1781 666V688M1783 660V674M1785 662V670M1787 660V668M1789 652V664M1791 640V656M1793 640V656M1795 648V664M1797 656V666M1799 658V668M1801 656V674M1803 650V666M1805 642V658M1807 636V648M1809 636V648M1811 640V650M1813 640V650M1815 644V652M1817 650V662M1819 644V688M1821 644V652M1823 644V650M1825 642V648M1827 634V648M1829 626V670M1831 636V678M1833 618V648M1835 618V648M1837 630V640M1839 626V636M1841 622V634M1843 614V624M1845 606V614M1847 606V614M1849 610V616M1851 612V624M1853 606V614M1855 606V614M1857 594V606M1859 594V602M1861 594V602M1863 592V600M1865 586V602M1867 578V590M1869 580V588M1871 580V586M1873 584V590M1875 576V610M1877 572V604M1879 562V602M1881 582V598M1883 590V606M1885 592V608M1887 594V610M1889 590V598M1891 566V598M1893 508V566M1895 508V566M1897 512V536M1899 518V540M1901 520V542M1903 496V520M1905 496V504M1907 488V496M1909 476V500M1911 498V526M1913 526V556M1915 526V556M1917 522V544M1919 522V544M1921 524V540M1923 524V540M1925 516V544M1927 494V524M1929 494V524M1931 482V500M1933 466V490M1935 432V490M1937 432V460M1939 426V454M1941 422V440M1943 422V440M1945 438V456M1947 430V456M1949 430V456M1951 432V442M1953 428V438M1955 402V454M1957 430V454M1959 432V448M1961 430V444M1963 424V438M1965 414V434M1967 394V414M1969 396V412M1971 396V416M1973 410V446M1975 410V432M1977 420V430M1979 426V434M1981 432V442M1983 432V452M1985 416V438M1987 412V426M1989 402V416M1991 394V406M1993 312V394M1995 300V342M1997 254V310M1999 280V364M2001 364V478M2003 376V416M2005 380V416M2007 378V406M2009 394V458M2011 442V468M2013 444V458M2015 362V444M2017 396V444M2019 406V442M2021 384V446M2023 402V432M2025 404V432M2027 408V422M2029 384V422M2031 384V416M2033 366V402M2035 344V394M2037 310V354M2039 322V350M2041 322V350M2043 316V364M2045 344V394M2047 350V390M2049 350V390M2051 354V364M2053 350V376M2055 346V372M2057 338V372M2059 332V372M2061 322V364M2063 308V358M2065 318V350M2067 318V350M2069 310V334M2071 274V324M2073 262V286M2075 186V262M2077 190V234M2079 190V234M2081 190V286M2083 204V268M2085 194V238M2087 194V228M2089 210V228M2091 146V210M2093 146V166M2095 30V166M2097 68V110M2099 76V102M2101 56V100M2103 74V146M2105 144V184M2107 184V224M2109 194V248M2111 224V260M2113 224V260M2115 218V238M2117 172V234M2119 178V238M2121 178V238M2123 194V224M2125 200V234M2127 206V288M2129 226V252M2131 218V242M2133 218V240M2135 218V262M2137 240V262M2139 246V274M2141 274V308M2143 274V308M2145 290V310M2147 302V334M2149 324V368M2151 344V370M2153 350V394M2155 354V412M2157 364V392M2159 372V390M2161 374V398M2163 374V396M2165 364V398M2167 380V418M2169 358V440M2171 348V376M2173 336V358M2175 336V354M2177 328V342M2179 312V336M2181 326V344M2183 324V342M2185 336V366M2187 342V358M2189 332V376M2191 342V354M2193 354V386M2195 358V386M2197 362V372M2199 362V386M2201 350V386M2203 342V354M2205 332V354M2207 338V356M2209 338V354M2211 350V372M2213 368V380M2215 370V400M2217 372V380M2219 370V390M2221 372V388M2223 356V372M2225 346V370M2227 342V368M2229 314V350M2231 320V332M2233 320V338M2235 322V332M2237 294V330M2239 276V308M2241 276V292M2243 280V292M2245 284V294M2247 288V304M2249 288V326M2251 284V306M2253 292V312M2255 290V324M2257 294V358M2259 324V366M2261 322V368M2263 328V356" stroke="#000" stroke-width="2" fill="none" shape-rendering="crispEdges"/>
<g shape-rendering="crispEdges" fill="#000"><rect x="1008" y="914" width="2" height="32" fill="#000"/><rect x="1018" y="916" width="4" height="22" fill="#f0f0f0"/><rect x="1016" y="914" width="2" height="32" fill="#000"/><rect x="1016" y="914" width="6" height="2" fill="#000"/><rect x="1016" y="938" width="6" height="2" fill="#000"/><rect x="1030" y="916" width="4" height="22" fill="#f0f0f0"/><rect x="1028" y="914" width="2" height="32" fill="#000"/><rect x="1028" y="914" width="6" height="2" fill="#000"/><rect x="1028" y="938" width="6" height="2" fill="#000"/><rect x="1044" y="916" width="4" height="22" fill="#f0f0f0"/><rect x="1042" y="914" width="2" height="32" fill="#000"/><rect x="1042" y="914" width="6" height="2" fill="#000"/><rect x="1042" y="938" width="6" height="2" fill="#000"/><rect x="1056" y="916" width="4" height="22" fill="#f0f0f0"/><rect x="1054" y="914" width="2" height="32" fill="#000"/><rect x="1054" y="914" width="6" height="2" fill="#000"/><rect x="1054" y="938" width="6" height="2" fill="#000"/><path d="M1067 915H1116L1124 927L1116 939H1067Z" fill="#f0f0f0" stroke="#000" stroke-width="2"/><rect x="1066" y="914" width="2" height="32" fill="#000"/><text x="1070" y="934" font-size="19.5" textLength="44" lengthAdjust="spacingAndGlyphs" fill="#000">21:30</text><path d="M1343 915H1354L1362 927L1354 939H1343Z" fill="#f0f0f0" stroke="#000" stroke-width="2"/><rect x="1198" y="916" width="4" height="22" fill="#f0f0f0"/><rect x="1196" y="914" width="2" height="32" fill="#000"/><rect x="1196" y="914" width="6" height="2" fill="#000"/><rect x="1196" y="938" width="6" height="2" fill="#000"/><rect x="1210" y="916" width="4" height="22" fill="#f0f0f0"/><rect x="1208" y="914" width="2" height="32" fill="#000"/><rect x="1208" y="914" width="6" height="2" fill="#000"/><rect x="1208" y="938" width="6" height="2" fill="#000"/><rect x="1222" y="916" width="2" height="22" fill="#f0f0f0"/><rect x="1220" y="914" width="2" height="32" fill="#000"/><rect x="1220" y="914" width="4" height="2" fill="#000"/><rect x="1220" y="938" width="4" height="2" fill="#000"/><rect x="1230" y="916" width="4" height="22" fill="#f0f0f0"/><rect x="1228" y="914" width="2" height="32" fill="#000"/><rect x="1228" y="914" width="6" height="2" fill="#000"/><rect x="1228" y="938" width="6" height="2" fill="#000"/><rect x="1240" y="916" width="8" height="22" fill="#f0f0f0"/><rect x="1238" y="914" width="2" height="32" fill="#000"/><rect x="1238" y="914" width="10" height="2" fill="#000"/><rect x="1238" y="938" width="10" height="2" fill="#000"/><rect x="1258" y="916" width="4" height="22" fill="#f0f0f0"/><rect x="1256" y="914" width="2" height="32" fill="#000"/><rect x="1256" y="914" width="6" height="2" fill="#000"/><rect x="1256" y="938" width="6" height="2" fill="#000"/><rect x="1268" y="916" width="6" height="22" fill="#f0f0f0"/><rect x="1266" y="914" width="2" height="32" fill="#000"/><rect x="1266" y="914" width="8" height="2" fill="#000"/><rect x="1266" y="938" width="8" height="2" fill="#000"/><rect x="1280" y="916" width="6" height="22" fill="#f0f0f0"/><rect x="1278" y="914" width="2" height="32" fill="#000"/><rect x="1278" y="914" width="8" height="2" fill="#000"/><rect x="1278" y="938" width="8" height="2" fill="#000"/><path d="M1293 915H1342L1350 927L1342 939H1293Z" fill="#f0f0f0" stroke="#000" stroke-width="2"/><rect x="1292" y="914" width="2" height="32" fill="#000"/><text x="1296" y="934" font-size="19.5" textLength="44" lengthAdjust="spacingAndGlyphs" fill="#000">20:00</text><path d="M2169 915H2180L2190 927L2180 939H2169Z" fill="#f0f0f0" stroke="#000" stroke-width="2"/><rect x="1956" y="916" width="4" height="22" fill="#f0f0f0"/><rect x="1954" y="914" width="2" height="32" fill="#000"/><rect x="1954" y="914" width="6" height="2" fill="#000"/><rect x="1954" y="938" width="6" height="2" fill="#000"/><rect x="1964" y="916" width="2" height="22" fill="#f0f0f0"/><rect x="1962" y="914" width="2" height="32" fill="#000"/><rect x="1962" y="914" width="4" height="2" fill="#000"/><rect x="1962" y="938" width="4" height="2" fill="#000"/><rect x="1968" y="916" width="4" height="22" fill="#f0f0f0"/><rect x="1966" y="914" width="2" height="32" fill="#000"/><rect x="1966" y="914" width="6" height="2" fill="#000"/><rect x="1966" y="938" width="6" height="2" fill="#000"/><rect x="1976" y="916" width="2" height="22" fill="#f0f0f0"/><rect x="1974" y="914" width="2" height="32" fill="#000"/><rect x="1974" y="914" width="4" height="2" fill="#000"/><rect x="1974" y="938" width="4" height="2" fill="#000"/><rect x="1980" y="916" width="4" height="22" fill="#ffc0cb"/><rect x="1978" y="914" width="2" height="32" fill="#000"/><rect x="1978" y="914" width="6" height="2" fill="#000"/><rect x="1978" y="938" width="6" height="2" fill="#000"/><rect x="1988" y="916" width="2" height="22" fill="#f0f0f0"/><rect x="1986" y="914" width="2" height="32" fill="#000"/><rect x="1986" y="914" width="4" height="2" fill="#000"/><rect x="1986" y="938" width="4" height="2" fill="#000"/><rect x="1992" y="916" width="4" height="22" fill="#c0ffff"/><rect x="1990" y="914" width="2" height="32" fill="#000"/><rect x="1990" y="914" width="6" height="2" fill="#000"/><rect x="1990" y="938" width="6" height="2" fill="#000"/><rect x="2000" y="916" width="2" height="22" fill="#f0f0f0"/><rect x="1998" y="914" width="2" height="32" fill="#000"/><rect x="1998" y="914" width="4" height="2" fill="#000"/><rect x="1998" y="938" width="4" height="2" fill="#000"/><rect x="2004" y="916" width="4" height="22" fill="#f0f0f0"/><rect x="2002" y="914" width="2" height="32" fill="#000"/><rect x="2002" y="914" width="6" height="2" fill="#000"/><rect x="2002" y="938" width="6" height="2" fill="#000"/><rect x="2012" y="916" width="2" height="22" fill="#f0f0f0"/><rect x="2010" y="914" width="2" height="32" fill="#000"/><rect x="2010" y="914" width="4" height="2" fill="#000"/><rect x="2010" y="938" width="4" height="2" fill="#000"/><rect x="2016" y="916" width="4" height="22" fill="#ffc0cb"/><rect x="2014" y="914" width="2" height="32" fill="#000"/><rect x="2014" y="914" width="6" height="2" fill="#000"/><rect x="2014" y="938" width="6" height="2" fill="#000"/><rect x="2030" y="916" width="2" height="22" fill="#f0f0f0"/><rect x="2028" y="914" width="2" height="32" fill="#000"/><rect x="2028" y="914" width="4" height="2" fill="#000"/><rect x="2028" y="938" width="4" height="2" fill="#000"/><rect x="2034" y="916" width="4" height="22" fill="#c0ffff"/><rect x="2032" y="914" width="2" height="32" fill="#000"/><rect x="2032" y="914" width="6" height="2" fill="#000"/><rect x="2032" y="938" width="6" height="2" fill="#000"/><rect x="2040" y="916" width="4" height="22" fill="#f0f0f0"/><rect x="2038" y="914" width="2" height="32" fill="#000"/><rect x="2038" y="914" width="6" height="2" fill="#000"/><rect x="2038" y="938" width="6" height="2" fill="#000"/><rect x="2052" y="916" width="4" height="22" fill="#c0ffff"/><rect x="2050" y="914" width="2" height="32" fill="#000"/><rect x="2050" y="914" width="6" height="2" fill="#000"/><rect x="2050" y="938" width="6" height="2" fill="#000"/><rect x="2062" y="916" width="4" height="22" fill="#f0f0f0"/><rect x="2060" y="914" width="2" height="32" fill="#000"/><rect x="2060" y="914" width="6" height="2" fill="#000"/><rect x="2060" y="938" width="6" height="2" fill="#000"/><rect x="2076" y="916" width="4" height="22" fill="#c0ffff"/><rect x="2074" y="914" width="2" height="32" fill="#000"/><rect x="2074" y="914" width="6" height="2" fill="#000"/><rect x="2074" y="938" width="6" height="2" fill="#000"/><rect x="2088" y="916" width="4" height="22" fill="#c0ffff"/><rect x="2086" y="914" width="2" height="32" fill="#000"/><rect x="2086" y="914" width="6" height="2" fill="#000"/><rect x="2086" y="938" width="6" height="2" fill="#000"/><rect x="2098" y="916" width="18" height="22" fill="#f0f0f0"/><rect x="2098" y="914" width="2" height="32"/><rect x="2098" y="914" width="18" height="2"/><rect x="2098" y="938" width="18" height="2"/><text x="2102" y="934" font-size="19.5" textLength="14" lengthAdjust="spacingAndGlyphs" fill="#000">0(</text><path d="M2119 915H2168L2176 927L2168 939H2119Z" fill="#f0f0f0" stroke="#000" stroke-width="2"/><rect x="2118" y="914" width="2" height="32" fill="#000"/><text x="2122" y="934" font-size="19.5" textLength="44" lengthAdjust="spacingAndGlyphs" fill="#000">18:30</text><rect x="2106" y="942" width="2" height="4"/><rect x="2110" y="942" width="2" height="4"/><rect x="2132" y="942" width="2" height="4"/></g>
<polygon points="298.3,931.8 426.7,770.7 403.7,751.9 481.2,716.4 463.3,799.5 439.3,781.2 309.8,940.9" fill="#7abc43"/><polygon points="1207.8,719.3 1325.3,771.6 1337.9,744.1 1391.8,809.5 1306.9,813.5 1319.0,785.1 1201.2,732.4" fill="#9729bb"/><polygon points="2120.7,27.4 2213.9,179.9 2240.4,164.4 2247.8,248.7 2175.8,203.8 2201.2,188.4 2108.0,34.8" fill="#ff9402"/>
<rect x="14" y="958" width="160" height="18" fill="#fff"/>
<path d="M11 1152V1154M13 1154V1156M15 1156V1158M17 1158V1162M19 1162V1164M21 1164V1166M23 1166V1168M25 1168V1170M27 1168V1172M29 1172V1174M31 1172V1174M33 1172V1174M35 1174V1176M37 1176V1180M39 1180V1182M41 1182V1184M43 1184V1186M45 1184V1186M47 1182V1184M49 1184V1186M51 1186V1188M53 1188V1190M55 1190V1192M57 1190V1192M59 1190V1192M61 1190V1192M63 1190V1192M65 1190V1192M67 1190V1192M69 1190V1192M71 1192V1194M73 1194V1196M75 1196V1198M77 1194V1196M79 1186V1194M81 1176V1186M83 1170V1176M85 1164V1170M87 1160V1164M89 1154V1160M91 1152V1154M93 1152V1154M95 1152V1154M97 1152V1154M99 1152V1154M101 1152V1154M103 1154V1156M105 1156V1160M107 1160V1164M109 1164V1168M111 1168V1170M113 1168V1170M115 1166V1168M117 1166V1168M119 1164V1166M121 1164V1166M123 1164V1166M125 1164V1166M127 1166V1170M129 1170V1172M131 1170V1172M133 1172V1174M135 1172V1174M137 1174V1178M139 1178V1180M141 1180V1182M143 1182V1184M145 1184V1186M147 1180V1184M149 1178V1180M151 1178V1180M153 1178V1180M155 1178V1180M157 1178V1180M159 1178V1180M161 1178V1180M163 1178V1180M165 1180V1184M167 1184V1190M169 1190V1196M171 1196V1198M173 1198V1200M175 1198V1200M177 1200V1202M179 1200V1202M181 1200V1202M183 1198V1200M185 1198V1200M187 1198V1200M189 1198V1200M191 1198V1200M193 1198V1200M195 1198V1200M197 1200V1202M199 1200V1202M201 1200V1202M203 1200V1202M205 1196V1200M207 1188V1196M209 1176V1188M211 1164V1176M213 1154V1164M215 1146V1154M217 1140V1146M219 1138V1140M221 1136V1138M223 1134V1136M225 1134V1136M227 1136V1140M229 1140V1144M231 1144V1146M233 1146V1148M235 1148V1152M237 1152V1156M239 1156V1160M241 1160V1164M243 1164V1166M245 1166V1168M247 1166V1168M249 1168V1170M251 1168V1170M253 1168V1170M255 1170V1174M257 1174V1176M259 1176V1180M261 1180V1184M263 1184V1190M265 1190V1192M267 1192V1194M269 1192V1194M271 1192V1194M273 1192V1194M275 1192V1194M277 1190V1192M279 1188V1190M281 1182V1188M283 1170V1182M285 1148V1170M287 1114V1148M289 1080V1114M291 1046V1080M293 1022V1046M295 1006V1022M297 994V1006M299 986V994M301 982V986M303 982V984M305 982V984M307 982V986M309 986V992M311 992V1002M313 1002V1014M315 1014V1032M317 1032V1054M319 1054V1086M321 1086V1122M323 1122V1142M325 1142V1150M327 1150V1154M329 1154V1156M331 1152V1154M333 1150V1152M335 1148V1150M337 1148V1150M339 1146V1148M341 1146V1148M343 1142V1146M345 1134V1142M347 1124V1134M349 1118V1124M351 1118V1120M353 1118V1122M355 1122V1126M357 1126V1128M359 1124V1126M361 1120V1124M363 1118V1120M365 1116V1118M367 1114V1116M369 1116V1118M371 1116V1120M373 1120V1126M375 1126V1132M377 1132V1142M379 1142V1154M381 1154V1168M383 1168V1180M385 1180V1188M387 1188V1190M389 1190V1192M391 1190V1192M393 1192V1194M395 1194V1196M397 1196V1198M399 1194V1196M401 1194V1196M403 1194V1196M405 1196V1198M407 1198V1200M409 1200V1202M411 1200V1202M413 1200V1202M415 1194V1200M417 1184V1194M419 1174V1184M421 1166V1174M423 1162V1166M425 1158V1162M427 1154V1158M429 1150V1154M431 1148V1150M433 1148V1150M435 1148V1150M437 1150V1152M439 1152V1156M441 1156V1158M443 1158V1162M445 1162V1164M447 1164V1168M449 1168V1170M451 1170V1172M453 1172V1174M455 1172V1174M457 1172V1174M459 1172V1174M461 1174V1176M463 1176V1178M465 1170V1176M467 1158V1170M469 1150V1158M471 1144V1150M473 1138V1144M475 1136V1138M477 1134V1136M479 1134V1136M481 1134V1136M483 1134V1136M485 1134V1136M487 1136V1138M489 1138V1144M491 1144V1152M493 1152V1160M495 1160V1168M497 1168V1176M499 1176V1182M501 1182V1186M503 1186V1196M505 1196V1202M507 1202V1204M509 1204V1206M511 1206V1208M513 1206V1208M515 1206V1208M517 1204V1206M519 1204V1206M521 1202V1204M523 1200V1202M525 1192V1200M527 1184V1192M529 1178V1184M531 1174V1178M533 1174V1176M535 1174V1176M537 1174V1176M539 1174V1176M541 1172V1174M543 1172V1174M545 1170V1172M547 1166V1170M549 1158V1166M551 1148V1158M553 1140V1148M555 1136V1140M557 1132V1136M559 1128V1132M561 1120V1128M563 1116V1120M565 1116V1118M567 1116V1118M569 1118V1120M571 1120V1124M573 1124V1128M575 1128V1136M577 1136V1146M579 1146V1158M581 1158V1170M583 1170V1182M585 1182V1192M587 1192V1194M589 1194V1196M591 1192V1194M593 1192V1194M595 1194V1196M597 1194V1196M599 1196V1198M601 1198V1200M603 1198V1200M605 1198V1200M607 1194V1198M609 1188V1194M611 1184V1188M613 1182V1184M615 1180V1182M617 1180V1182M619 1180V1182M621 1180V1182M623 1180V1182M625 1180V1182M627 1180V1182M629 1168V1180M631 1144V1168M633 1118V1144M635 1104V1118M637 1098V1104M639 1092V1098M641 1084V1092M643 1078V1084M645 1074V1078M647 1074V1076M649 1074V1076M651 1074V1078M653 1078V1086M655 1086V1098M657 1098V1108M659 1108V1118M661 1118V1130M663 1130V1146M665 1146V1160M667 1160V1170M669 1168V1172M671 1164V1168M673 1162V1164M675 1160V1162M677 1158V1160M679 1156V1158M681 1154V1156M683 1156V1160M685 1160V1164M687 1164V1168M689 1168V1174M691 1174V1178M693 1166V1176M695 1154V1166M697 1150V1154M699 1148V1150M701 1144V1148M703 1140V1144M705 1138V1140M707 1136V1138M709 1138V1142M711 1142V1144M713 1142V1146M715 1146V1152M717 1152V1158M719 1158V1166M721 1166V1172M723 1172V1174M725 1170V1172M727 1168V1170M729 1168V1170M731 1170V1172M733 1166V1170M735 1166V1168M737 1164V1166M739 1160V1164M741 1154V1160M743 1152V1154M745 1150V1152M747 1150V1152M749 1152V1154M751 1154V1158M753 1154V1156M755 1152V1154M757 1152V1154M759 1150V1152M761 1148V1150M763 1144V1148M765 1140V1144M767 1136V1140M769 1134V1136M771 1132V1134M773 1132V1134M775 1130V1132M777 1126V1130M779 1124V1128M781 1128V1134M783 1134V1142M785 1142V1152M787 1152V1164M789 1164V1178M791 1178V1186M793 1186V1188M795 1184V1186M797 1182V1184M799 1184V1186M801 1184V1186M803 1184V1186M805 1182V1184M807 1182V1184M809 1184V1186M811 1184V1186M813 1186V1188M815 1188V1190M817 1190V1194M819 1194V1196M821 1190V1194M823 1186V1190M825 1184V1186M827 1184V1186M829 1186V1188M831 1184V1186M833 1182V1184M835 1184V1186M837 1186V1188M839 1186V1188M841 1186V1188M843 1186V1188M845 1186V1188M847 1186V1188M849 1186V1188M851 1186V1188M853 1186V1188M855 1186V1188M857 1182V1186M859 1168V1182M861 1146V1168M863 1130V1146M865 1120V1130M867 1110V1120M869 1100V1110M871 1096V1100M873 1094V1096M875 1094V1096M877 1092V1094M879 1094V1098M881 1098V1104M883 1104V1110M885 1110V1112M887 1112V1116M889 1116V1120M891 1120V1122M893 1122V1124M895 1122V1124M897 1122V1124M899 1122V1124M901 1124V1126M903 1126V1128M905 1128V1130M907 1130V1134M909 1134V1140M911 1140V1146M913 1146V1152M915 1152V1160M917 1160V1170M919 1170V1172M921 1172V1174M923 1168V1172M925 1166V1168M927 1164V1166M929 1164V1166M931 1164V1168M933 1168V1170M935 1170V1172M937 1172V1174M939 1174V1178M941 1170V1178M943 1162V1170M945 1160V1162M947 1158V1160M949 1158V1160M951 1160V1162M953 1162V1164M955 1160V1162M957 1158V1160M959 1156V1158M961 1156V1158M963 1156V1158M965 1156V1158M967 1158V1160M969 1160V1164M971 1164V1170M973 1170V1172M975 1172V1174M977 1174V1176M979 1176V1178M981 1178V1180M983 1180V1182M985 1180V1182M987 1180V1182M989 1180V1182M991 1180V1182M993 1180V1182M995 1180V1182M997 1182V1186M999 1186V1190M1001 1186V1190M1003 1180V1186M1005 1176V1180M1007 1174V1176M1009 1174V1176M1011 1174V1176M1013 1174V1176M1015 1174V1176M1017 1174V1176M1019 1174V1176M1021 1174V1176M1023 1174V1176M1025 1174V1176M1027 1174V1178M1029 1178V1180M1031 1180V1182M1033 1182V1184M1035 1182V1184M1037 1176V1182M1039 1168V1176M1041 1162V1168M1043 1160V1162M1045 1160V1162M1047 1158V1160M1049 1156V1158M1051 1154V1156M1053 1154V1156M1055 1152V1154M1057 1152V1154M1059 1150V1152M1061 1148V1150M1063 1140V1148M1065 1126V1140M1067 1112V1126M1069 1104V1112M1071 1098V1104M1073 1092V1098M1075 1088V1092M1077 1086V1088M1079 1086V1090M1081 1090V1096M1083 1096V1106M1085 1106V1114M1087 1114V1120M1089 1120V1126M1091 1126V1128M1093 1128V1136M1095 1136V1142M1097 1142V1144M1099 1144V1146M1101 1144V1146M1103 1146V1148M1105 1142V1146M1107 1134V1142M1109 1124V1134M1111 1118V1124M1113 1116V1118M1115 1116V1118M1117 1114V1116M1119 1116V1118M1121 1116V1120M1123 1120V1122M1125 1122V1124M1127 1124V1126M1129 1126V1130M1131 1130V1138M1133 1138V1150M1135 1150V1166M1137 1166V1180M1139 1180V1182M1141 1182V1184M1143 1184V1186M1145 1186V1190M1147 1188V1190M1149 1184V1188M1151 1182V1184M1153 1182V1184M1155 1180V1182M1157 1180V1182M1159 1180V1182M1161 1180V1182M1163 1180V1182M1165 1182V1184M1167 1182V1184M1169 1182V1184M1171 1182V1184M1173 1182V1184M1175 1180V1182M1177 1180V1182M1179 1180V1182M1181 1180V1182M1183 1180V1182M1185 1178V1180M1187 1174V1178M1189 1170V1174M1191 1166V1170M1193 1160V1166M1195 1140V1160M1197 1108V1140M1199 1086V1108M1201 1076V1086M1203 1064V1076M1205 1052V1064M1207 1036V1052M1209 1024V1036M1211 1020V1024M1213 1020V1022M1215 1020V1022M1217 1020V1024M1219 1024V1032M1221 1032V1040M1223 1040V1052M1225 1052V1064M1227 1064V1080M1229 1080V1100M1231 1100V1126M1233 1126V1152M1235 1152V1166M1237 1166V1168M1239 1168V1172M1241 1172V1174M1243 1174V1176M1245 1176V1178M1247 1178V1180M1249 1178V1180M1251 1176V1178M1253 1176V1178M1255 1176V1178M1257 1176V1178M1259 1176V1178M1261 1176V1178M1263 1176V1178M1265 1170V1176M1267 1160V1170M1269 1156V1160M1271 1156V1158M1273 1156V1158M1275 1156V1158M1277 1156V1160M1279 1160V1166M1281 1166V1168M1283 1166V1168M1285 1164V1166M1287 1164V1166M1289 1160V1164M1291 1156V1160M1293 1154V1156M1295 1154V1156M1297 1154V1156M1299 1156V1158M1301 1158V1166M1303 1166V1172M1305 1172V1174M1307 1172V1174M1309 1172V1174M1311 1172V1174M1313 1174V1176M1315 1176V1178M1317 1178V1180M1319 1180V1182M1321 1180V1182M1323 1180V1182M1325 1180V1182M1327 1180V1182M1329 1180V1182M1331 1182V1184M1333 1182V1184M1335 1182V1184M1337 1184V1188M1339 1188V1194M1341 1194V1196M1343 1196V1198M1345 1196V1198M1347 1196V1198M1349 1196V1198M1351 1194V1196M1353 1192V1194M1355 1190V1192M1357 1188V1190M1359 1186V1188M1361 1186V1188M1363 1186V1188M1365 1188V1190M1367 1188V1190M1369 1188V1190M1371 1188V1190M1373 1190V1192M1375 1190V1192M1377 1190V1192M1379 1188V1190M1381 1188V1190M1383 1186V1188M1385 1184V1186M1387 1180V1184M1389 1178V1180M1391 1176V1178M1393 1174V1176M1395 1172V1174M1397 1170V1172M1399 1168V1170M1401 1168V1170M1403 1168V1170M1405 1168V1170M1407 1166V1168M1409 1162V1166M1411 1154V1162M1413 1146V1154M1415 1138V1146M1417 1130V1138M1419 1124V1130M1421 1120V1124M1423 1120V1122M1425 1120V1122M1427 1120V1122M1429 1122V1124M1431 1124V1130M1433 1130V1136M1435 1136V1144M1437 1144V1156M1439 1156V1166M1441 1166V1176M1443 1176V1180M1445 1180V1182M1447 1180V1182M1449 1180V1182M1451 1178V1180M1453 1178V1180M1455 1176V1178M1457 1178V1180M1459 1180V1182M1461 1180V1182M1463 1178V1180M1465 1174V1178M1467 1172V1174M1469 1170V1172M1471 1166V1170M1473 1164V1166M1475 1162V1164M1477 1162V1164M1479 1162V1164M1481 1162V1164M1483 1162V1164M1485 1162V1164M1487 1164V1168M1489 1168V1172M1491 1172V1176M1493 1176V1184M1495 1184V1192M1497 1192V1196M1499 1196V1200M1501 1198V1200M1503 1190V1198M1505 1184V1190M1507 1184V1186M1509 1182V1184M1511 1182V1184M1513 1180V1182M1515 1178V1180M1517 1178V1180M1519 1176V1178M1521 1174V1176M1523 1170V1174M1525 1168V1170M1527 1164V1168M1529 1158V1164M1531 1152V1158M1533 1148V1152M1535 1144V1148M1537 1142V1144M1539 1140V1142M1541 1140V1142M1543 1140V1142M1545 1142V1146M1547 1146V1148M1549 1146V1148M1551 1148V1150M1553 1150V1152M1555 1152V1156M1557 1156V1158M1559 1158V1160M1561 1156V1158M1563 1156V1158M1565 1154V1156M1567 1154V1156M1569 1154V1156M1571 1154V1156M1573 1156V1158M1575 1156V1158M1577 1154V1156M1579 1150V1154M1581 1146V1150M1583 1142V1146M1585 1140V1142M1587 1138V1140M1589 1136V1138M1591 1134V1136M1593 1134V1136M1595 1136V1138M1597 1136V1138M1599 1138V1142M1601 1142V1146M1603 1146V1156M1605 1156V1170M1607 1170V1178M1609 1178V1180M1611 1178V1180M1613 1170V1178M1615 1160V1170M1617 1152V1160M1619 1148V1152M1621 1146V1148M1623 1144V1146M1625 1142V1144M1627 1140V1142M1629 1140V1142M1631 1140V1142M1633 1138V1140M1635 1140V1146M1637 1146V1152M1639 1152V1158M1641 1158V1166M1643 1166V1170M1645 1170V1176M1647 1176V1180M1649 1180V1186M1651 1186V1192M1653 1192V1196M1655 1196V1198M1657 1196V1198M1659 1196V1198M1661 1196V1198M1663 1198V1200M1665 1198V1200M1667 1198V1200M1669 1196V1198M1671 1194V1196M1673 1194V1196M1675 1192V1194M1677 1192V1194M1679 1190V1192M1681 1190V1192M1683 1190V1192M1685 1186V1192M1687 1172V1186M1689 1160V1172M1691 1152V1160M1693 1146V1152M1695 1140V1146M1697 1136V1140M1699 1134V1136M1701 1132V1134M1703 1132V1134M1705 1132V1134M1707 1132V1134M1709 1132V1134M1711 1134V1138M1713 1138V1142M1715 1142V1150M1717 1150V1158M1719 1158V1168M1721 1168V1182M1723 1182V1192M1725 1192V1196M1727 1196V1198M1729 1196V1198M1731 1196V1198M1733 1194V1196M1735 1192V1194M1737 1190V1192M1739 1188V1190M1741 1186V1188M1743 1184V1186M1745 1184V1186M1747 1174V1184M1749 1160V1174M1751 1150V1160M1753 1142V1150M1755 1128V1142M1757 1106V1128M1759 1092V1106M1761 1086V1092M1763 1078V1086M1765 1072V1078M1767 1064V1072M1769 1058V1064M1771 1054V1058M1773 1054V1056M1775 1056V1060M1777 1060V1066M1779 1066V1076M1781 1076V1092M1783 1092V1114M1785 1114V1138M1787 1138V1154M1789 1154V1162M1791 1162V1168M1793 1168V1176M1795 1176V1178M1797 1178V1180M1799 1178V1180M1801 1178V1180M1803 1176V1178M1805 1174V1176M1807 1174V1176M1809 1174V1176M1811 1176V1178M1813 1178V1182M1815 1182V1184M1817 1184V1188M1819 1188V1192M1821 1192V1196M1823 1196V1198M1825 1198V1200M1827 1196V1198M1829 1194V1196M1831 1194V1196M1833 1194V1196M1835 1194V1196M1837 1192V1194M1839 1192V1194M1841 1188V1192M1843 1184V1188M1845 1180V1184M1847 1176V1180M1849 1172V1176M1851 1168V1172M1853 1166V1168M1855 1164V1166M1857 1162V1164M1859 1162V1164M1861 1160V1162M1863 1160V1162M1865 1158V1160M1867 1158V1160M1869 1160V1162M1871 1162V1166M1873 1166V1168M1875 1168V1172M1877 1172V1178M1879 1178V1184M1881 1184V1188M1883 1188V1190M1885 1190V1192M1887 1190V1192M1889 1184V1192M1891 1168V1184M1893 1154V1168M1895 1144V1154M1897 1140V1144M1899 1134V1140M1901 1124V1134M1903 1114V1124M1905 1104V1114M1907 1098V1104M1909 1094V1098M1911 1094V1096M1913 1096V1100M1915 1100V1104M1917 1104V1108M1919 1108V1114M1921 1114V1124M1923 1124V1132M1925 1132V1140M1927 1140V1152M1929 1152V1162M1931 1162V1166M1933 1152V1162M1935 1140V1152M1937 1126V1140M1939 1114V1126M1941 1108V1114M1943 1106V1108M1945 1102V1106M1947 1096V1102M1949 1094V1096M1951 1094V1096M1953 1096V1100M1955 1100V1106M1957 1106V1114M1959 1114V1124M1961 1124V1138M1963 1138V1146M1965 1146V1150M1967 1150V1156M1969 1156V1166M1971 1166V1178M1973 1178V1184M1975 1184V1186M1977 1184V1186M1979 1184V1186M1981 1186V1188M1983 1186V1188M1985 1186V1188M1987 1184V1186M1989 1178V1184M1991 1160V1178M1993 1128V1160M1995 1100V1128M1997 1092V1100M1999 1092V1094M2001 1092V1094M2003 1092V1094M2005 1094V1096M2007 1090V1094M2009 1086V1090M2011 1082V1086M2013 1082V1084M2015 1082V1084M2017 1082V1084M2019 1084V1086M2021 1084V1086M2023 1086V1088M2025 1088V1090M2027 1088V1090M2029 1088V1090M2031 1088V1094M2033 1094V1108M2035 1108V1118M2037 1118V1122M2039 1112V1118M2041 1108V1112M2043 1104V1108M2045 1104V1106M2047 1104V1108M2049 1108V1116M2051 1116V1122M2053 1122V1126M2055 1126V1130M2057 1130V1134M2059 1134V1138M2061 1138V1142M2063 1142V1148M2065 1148V1154M2067 1154V1158M2069 1152V1158M2071 1138V1152M2073 1116V1138M2075 1086V1116M2077 1060V1086M2079 1048V1060M2081 1038V1048M2083 1032V1038M2085 1028V1032M2087 1026V1028M2089 1022V1026M2091 1016V1022M2093 1006V1016M2095 994V1006M2097 984V994M2099 976V984M2101 974V980M2103 980V998M2105 998V1016M2107 1016V1036M2109 1036V1050M2111 1050V1056M2113 1056V1058M2115 1058V1060M2117 1058V1060M2119 1060V1062M2121 1062V1064M2123 1064V1066M2125 1062V1064M2127 1056V1062M2129 1052V1056M2131 1050V1052M2133 1050V1056M2135 1056V1070M2137 1070V1088M2139 1088V1108M2141 1108V1122M2143 1118V1126M2145 1102V1118M2147 1086V1102M2149 1072V1086M2151 1056V1072M2153 1042V1056M2155 1034V1042M2157 1032V1034M2159 1034V1036M2161 1036V1038M2163 1038V1042M2165 1042V1044M2167 1044V1048M2169 1048V1056M2171 1056V1070M2173 1070V1086M2175 1086V1100M2177 1100V1112M2179 1112V1124M2181 1124V1136M2183 1136V1144M2185 1144V1148M2187 1148V1150M2189 1150V1152M2191 1150V1152M2193 1150V1152M2195 1150V1152M2197 1152V1154M2199 1154V1156M2201 1156V1158M2203 1158V1164M2205 1164V1174M2207 1174V1178M2209 1176V1178M2211 1176V1178M2213 1174V1176M2215 1174V1176M2217 1174V1176M2219 1176V1180M2221 1180V1184M2223 1184V1186M2225 1182V1184M2227 1176V1182M2229 1172V1176M2231 1172V1174M2233 1168V1172M2235 1158V1168M2237 1144V1158M2239 1134V1144M2241 1126V1134M2243 1122V1126M2245 1118V1122M2247 1116V1118M2249 1118V1120M2251 1118V1120M2253 1118V1122M2255 1122V1126M2257 1126V1134M2259 1134V1142M2261 1142V1148" stroke="#0000ff" stroke-width="2" fill="none" shape-rendering="crispEdges"/>
<rect x="10" y="976" width="2760" height="6" fill="#ff8c00"/>
<polygon points="335.1,983.1 404.2,1071.4 428.1,1053.5 444.9,1136.7 367.8,1099.4 391.8,1081.0 323.4,991.8" fill="#7abc43"/><polygon points="1219.4,985.9 1324.6,1084.0 1344.8,1062.1 1374.4,1141.4 1292.9,1117.3 1313.5,1095.4 1209.4,996.7" fill="#9729bb"/><polygon points="2135.1,979.6 2243.3,1063.1 2262.0,1040.2 2298.3,1116.7 2215.1,1099.5 2233.4,1076.1 2125.2,990.5" fill="#ff9402"/>
<rect x="6.4" y="1132.2" width="2320.7" height="72.4" fill="none" stroke="#e42400" stroke-width="2.8"/>
<g shape-rendering="crispEdges" fill="none" stroke="#000" stroke-width="2">
<rect x="9" y="7" width="2762" height="940"/>
<rect x="9" y="951" width="2762" height="280"/>
<path d="M2772 51H2778M2772 115H2778M2772 179H2778M2772 243H2778M2772 307H2778M2772 371H2778M2772 435H2778M2772 499H2778M2772 563H2778M2772 627H2778M2772 691H2778M2772 755H2778M2772 819H2778M2772 883H2778M2772 953H2778M2772 1229H2778M9 1232V1238M137 1232V1238M265 1232V1238M393 1232V1238M521 1232V1238M649 1232V1238M777 1232V1238M905 1232V1238M1033 1232V1238M1161 1232V1238M1289 1232V1238M1417 1232V1238M1545 1232V1238M1673 1232V1238M1801 1232V1238M1929 1232V1238M2057 1232V1238M2185 1232V1238"/>
</g>
<rect x="2776" y="968" width="68" height="22" fill="#ff8c00"/>

<g shape-rendering="crispEdges">
<rect x="18" y="18" width="14" height="22" fill="#fff"/>
<path d="M19 19H33M19 39H33M19 19V39" stroke="#e0221c" stroke-width="2" fill="none"/>
<path d="M33 19H47V39H33" stroke="#0a5aa8" stroke-width="2" fill="none"/>
<rect x="22" y="24" width="10" height="4" fill="#ffdcd2"/><rect x="22" y="30" width="10" height="4" fill="#ffdcd2"/>
<rect x="34" y="24" width="10" height="4" fill="#bfe4fb"/><rect x="34" y="30" width="10" height="4" fill="#bfe4fb"/>
<rect x="22" y="22" width="10" height="2" fill="#e0221c"/><rect x="22" y="28" width="10" height="2" fill="#e0221c"/><rect x="22" y="34" width="10" height="2" fill="#e0221c"/>
<rect x="34" y="22" width="10" height="2" fill="#0a5aa8"/><rect x="34" y="28" width="10" height="2" fill="#0a5aa8"/><rect x="34" y="34" width="10" height="2" fill="#0a5aa8"/>
<path d="M61 19H67V27H73V39H61Z" fill="#ffdcd2" stroke="#e0221c" stroke-width="2"/>
<path d="M77 27H83V19H89V39H77Z" fill="#bfe4fb" stroke="#0a5aa8" stroke-width="2"/>
<rect x="70.8" y="18.8" width="8.4" height="4.4" fill="none" stroke="#a8a8a8" stroke-width="1.6"/>
</g>
<g font-family="Liberation Sans, sans-serif"><text x="102" y="36" font-size="19.5" textLength="282" lengthAdjust="spacingAndGlyphs" fill="#000">XAUUSD, H4: Gold vs US Dollar</text><text x="2782" y="58" font-size="19.5" textLength="64" lengthAdjust="spacingAndGlyphs" fill="#000">2061.80</text><text x="2782" y="122" font-size="19.5" textLength="64" lengthAdjust="spacingAndGlyphs" fill="#000">2034.35</text><text x="2782" y="186" font-size="19.5" textLength="64" lengthAdjust="spacingAndGlyphs" fill="#000">2006.90</text><text x="2782" y="250" font-size="19.5" textLength="64" lengthAdjust="spacingAndGlyphs" fill="#000">1979.45</text><text x="2782" y="314" font-size="19.5" textLength="64" lengthAdjust="spacingAndGlyphs" fill="#000">1952.00</text><text x="2782" y="378" font-size="19.5" textLength="64" lengthAdjust="spacingAndGlyphs" fill="#000">1924.55</text><text x="2782" y="442" font-size="19.5" textLength="64" lengthAdjust="spacingAndGlyphs" fill="#000">1897.10</text><text x="2782" y="506" font-size="19.5" textLength="64" lengthAdjust="spacingAndGlyphs" fill="#000">1869.65</text><text x="2782" y="570" font-size="19.5" textLength="64" lengthAdjust="spacingAndGlyphs" fill="#000">1842.20</text><text x="2782" y="634" font-size="19.5" textLength="64" lengthAdjust="spacingAndGlyphs" fill="#000">1814.75</text><text x="2782" y="698" font-size="19.5" textLength="64" lengthAdjust="spacingAndGlyphs" fill="#000">1787.30</text><text x="2782" y="762" font-size="19.5" textLength="64" lengthAdjust="spacingAndGlyphs" fill="#000">1759.85</text><text x="2782" y="826" font-size="19.5" textLength="64" lengthAdjust="spacingAndGlyphs" fill="#000">1732.40</text><text x="2782" y="890" font-size="19.5" textLength="64" lengthAdjust="spacingAndGlyphs" fill="#000">1704.95</text><text x="16" y="976" font-size="19.5" textLength="156" lengthAdjust="spacingAndGlyphs" fill="#000">StdDev(20) 10.292</text><text x="2782" y="968" font-size="19.5" textLength="56" lengthAdjust="spacingAndGlyphs" fill="#000">37.854</text><text x="2782" y="1226" font-size="19.5" textLength="50" lengthAdjust="spacingAndGlyphs" fill="#000">-1.153</text><text x="8" y="1256" font-size="19.5" textLength="82" lengthAdjust="spacingAndGlyphs" fill="#000">6 Jul 2021</text><text x="136" y="1256" font-size="19.5" textLength="97" lengthAdjust="spacingAndGlyphs" fill="#000">21 Jul 04:00</text><text x="264" y="1256" font-size="19.5" textLength="100" lengthAdjust="spacingAndGlyphs" fill="#000">4 Aug 20:00</text><text x="392" y="1256" font-size="19.5" textLength="110" lengthAdjust="spacingAndGlyphs" fill="#000">19 Aug 12:00</text><text x="520" y="1256" font-size="19.5" textLength="97.5" lengthAdjust="spacingAndGlyphs" fill="#000">3 Sep 04:00</text><text x="648" y="1256" font-size="19.5" textLength="107.5" lengthAdjust="spacingAndGlyphs" fill="#000">20 Sep 00:00</text><text x="776" y="1256" font-size="19.5" textLength="96" lengthAdjust="spacingAndGlyphs" fill="#000">4 Oct 16:00</text><text x="904" y="1256" font-size="19.5" textLength="105" lengthAdjust="spacingAndGlyphs" fill="#000">19 Oct 08:00</text><text x="1032" y="1256" font-size="19.5" textLength="102.5" lengthAdjust="spacingAndGlyphs" fill="#000">3 Nov 00:00</text><text x="1160" y="1256" font-size="19.5" textLength="111" lengthAdjust="spacingAndGlyphs" fill="#000">17 Nov 16:00</text><text x="1288" y="1256" font-size="19.5" textLength="98.4" lengthAdjust="spacingAndGlyphs" fill="#000">2 Dec 12:00</text><text x="1416" y="1256" font-size="19.5" textLength="106.5" lengthAdjust="spacingAndGlyphs" fill="#000">17 Dec 04:00</text><text x="1544" y="1256" font-size="19.5" textLength="94.7" lengthAdjust="spacingAndGlyphs" fill="#000">3 Jan 20:00</text><text x="1672" y="1256" font-size="19.5" textLength="102.5" lengthAdjust="spacingAndGlyphs" fill="#000">18 Jan 12:00</text><text x="1800" y="1256" font-size="19.5" textLength="98.4" lengthAdjust="spacingAndGlyphs" fill="#000">2 Feb 04:00</text><text x="1928" y="1256" font-size="19.5" textLength="107.5" lengthAdjust="spacingAndGlyphs" fill="#000">16 Feb 20:00</text><text x="2056" y="1256" font-size="19.5" textLength="98.4" lengthAdjust="spacingAndGlyphs" fill="#000">3 Mar 12:00</text><text x="2184" y="1256" font-size="19.5" textLength="107" lengthAdjust="spacingAndGlyphs" fill="#000">18 Mar 04:00</text></g>
<text x="2782" y="986" font-size="19.5" textLength="56" lengthAdjust="spacingAndGlyphs" fill="#fff" font-family="Liberation Sans, sans-serif">34.042</text>
</svg>
</body></html>
